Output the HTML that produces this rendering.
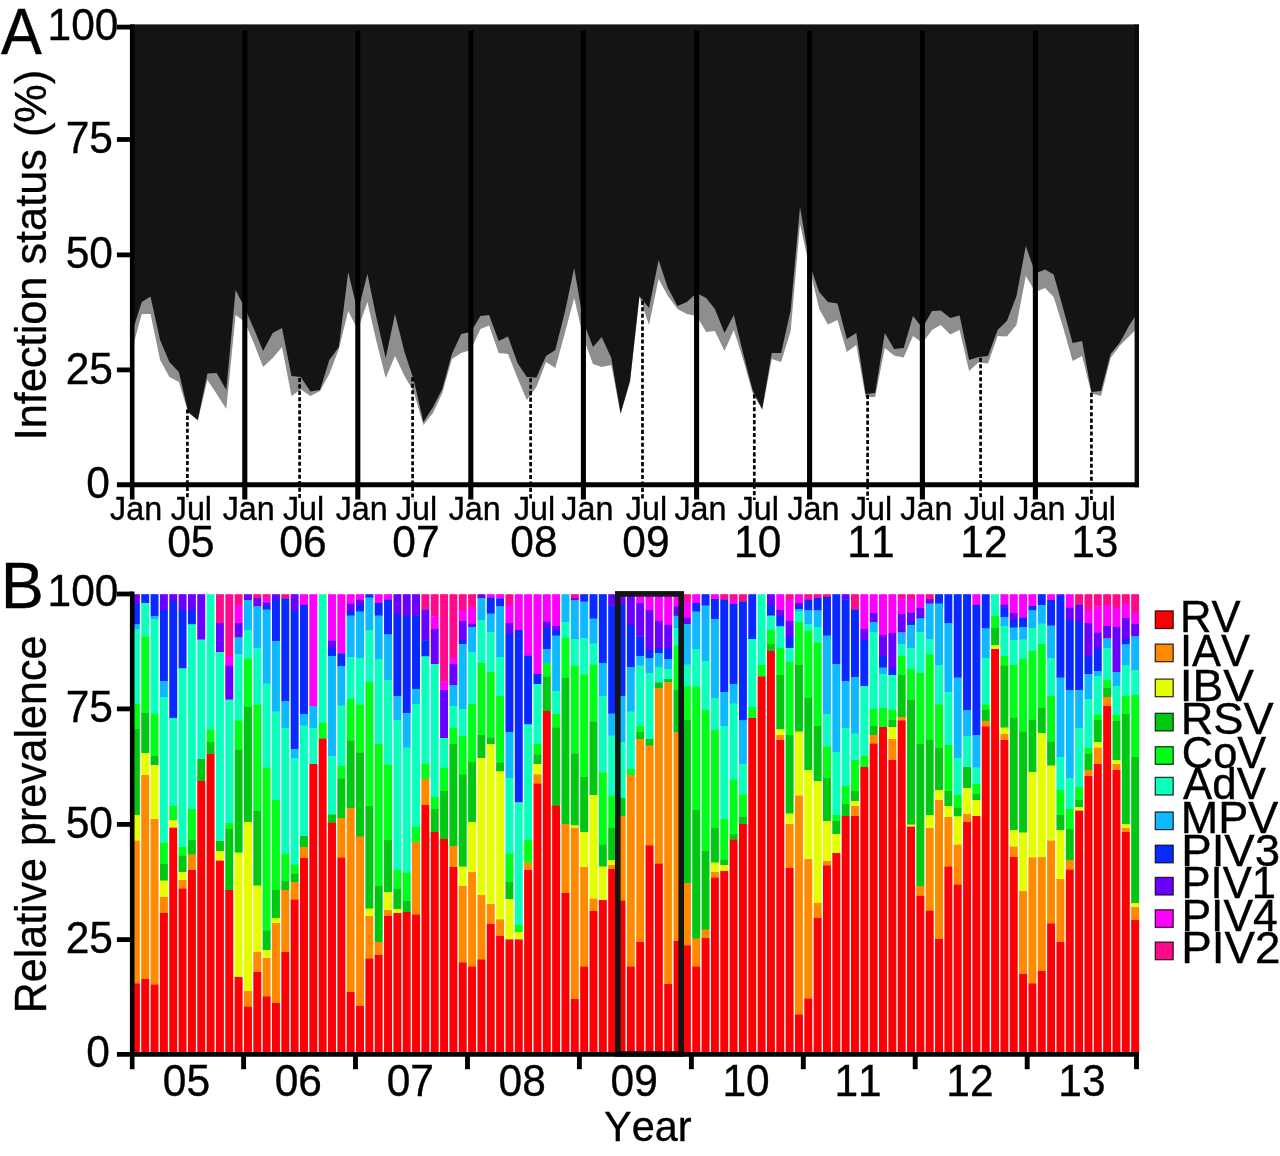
<!DOCTYPE html>
<html lang="en"><head><meta charset="utf-8"><title>Infection status and relative prevalence</title>
<style>html,body{margin:0;padding:0;background:#fff}svg{display:block}text{font-family:"Liberation Sans", Arial, Helvetica, sans-serif;fill:#000;stroke:#000;stroke-width:0.35px;font-kerning:none;font-variant-ligatures:none}</style>
</head><body>
<svg width="1280" height="1156" viewBox="0 0 1280 1156">
<rect width="1280" height="1156" fill="#fff"/>
<g id="panelA">
<path d="M132.2,24.6 L132.2,349.0 L141.8,314.0 L150.5,314.0 L160.1,360.0 L169.4,377.0 L178.9,382.0 L188.2,412.4 L197.8,420.4 L207.4,380.0 L216.7,394.0 L226.3,409.0 L235.6,315.0 L244.8,322.0 L254.4,344.4 L263.1,367.0 L272.7,358.0 L282.0,347.0 L291.5,396.0 L300.8,389.6 L310.4,396.0 L320.0,391.0 L329.3,374.0 L338.9,349.0 L348.2,311.0 L357.8,330.0 L367.4,302.0 L376.1,340.0 L385.7,378.0 L395.0,356.0 L404.5,376.0 L413.8,392.0 L423.4,425.0 L433.0,413.0 L442.3,393.0 L451.9,359.0 L461.2,353.0 L470.8,350.0 L480.4,329.0 L489.1,325.6 L498.7,353.0 L508.0,354.0 L517.5,378.0 L526.8,400.0 L536.4,387.0 L546.0,362.0 L555.3,368.0 L564.9,333.0 L574.2,298.0 L583.4,338.0 L593.0,364.0 L601.7,367.0 L611.3,365.0 L620.6,414.0 L630.1,382.0 L639.4,297.0 L649.0,325.0 L658.6,279.0 L667.9,296.0 L677.5,309.0 L686.8,314.0 L696.6,316.0 L706.2,332.0 L714.9,331.0 L724.5,351.0 L733.8,330.0 L743.3,360.0 L752.6,393.0 L762.2,410.0 L771.8,359.0 L781.1,362.0 L790.7,331.0 L800.0,224.0 L809.6,268.0 L819.2,309.0 L827.9,324.4 L837.5,320.0 L846.8,352.0 L856.3,345.0 L865.6,397.0 L875.2,397.0 L884.8,348.0 L894.1,355.6 L903.7,357.6 L913.0,336.0 L922.4,343.0 L932.0,330.0 L940.7,325.0 L950.3,334.4 L959.6,330.0 L969.1,371.0 L978.4,362.4 L988.0,363.6 L997.6,336.0 L1006.9,336.4 L1016.5,325.0 L1025.8,276.0 L1035.4,292.0 L1045.0,288.0 L1053.7,297.0 L1063.3,328.0 L1072.6,361.0 L1082.1,356.0 L1091.4,393.6 L1101.0,396.0 L1110.6,358.0 L1119.9,345.6 L1129.5,336.0 L1137.4,328.0 L1137.4,24.6 Z" fill="#8e8e8e"/>
<path d="M130.2,24.6 L132.2,332.0 L141.8,302.0 L150.5,296.6 L160.1,340.0 L169.4,362.0 L178.9,372.0 L188.2,412.0 L197.8,420.0 L207.4,373.6 L216.7,373.0 L226.3,390.0 L235.6,290.0 L244.8,308.0 L254.4,330.0 L263.1,351.0 L272.7,333.0 L282.0,328.0 L291.5,376.0 L300.8,377.0 L310.4,391.6 L320.0,390.0 L329.3,360.0 L338.9,347.0 L348.2,272.0 L357.8,312.0 L367.4,274.0 L376.1,316.0 L385.7,358.0 L395.0,314.0 L404.5,352.0 L413.8,380.0 L423.4,422.0 L433.0,407.0 L442.3,389.0 L451.9,354.0 L461.2,334.0 L470.8,332.0 L480.4,316.0 L489.1,315.0 L498.7,341.0 L508.0,336.4 L517.5,363.0 L526.8,377.0 L536.4,377.6 L546.0,356.0 L555.3,350.0 L564.9,312.0 L574.2,268.0 L583.4,322.0 L593.0,347.0 L601.7,337.0 L611.3,358.0 L620.6,413.6 L630.1,380.0 L639.4,296.0 L649.0,308.0 L658.6,260.0 L667.9,288.0 L677.5,306.0 L686.8,302.0 L696.6,293.0 L706.2,298.0 L714.9,309.0 L724.5,333.0 L733.8,315.0 L743.3,354.0 L752.6,390.0 L762.2,409.0 L771.8,353.0 L781.1,353.0 L790.7,310.0 L800.0,207.0 L809.6,264.0 L819.2,292.0 L827.9,302.0 L837.5,303.6 L846.8,339.0 L856.3,333.0 L865.6,394.0 L875.2,393.0 L884.8,333.0 L894.1,349.0 L903.7,348.0 L913.0,316.0 L922.4,328.0 L932.0,311.0 L940.7,310.4 L950.3,318.0 L959.6,315.6 L969.1,360.0 L978.4,357.0 L988.0,356.0 L997.6,330.0 L1006.9,321.0 L1016.5,296.0 L1025.8,246.0 L1035.4,273.6 L1045.0,269.6 L1053.7,274.4 L1063.3,309.0 L1072.6,343.0 L1082.1,341.0 L1091.4,392.0 L1101.0,391.0 L1110.6,354.0 L1119.9,342.4 L1129.5,325.0 L1137.4,313.0 L1138.9,313.0 L1138.9,24.6 Z" fill="#141414"/>
<line x1="187.4" y1="409.4" x2="187.4" y2="500" stroke="#000" stroke-width="2.7" stroke-dasharray="4.1 2.35"/>
<line x1="299.6" y1="377.9" x2="299.6" y2="500" stroke="#000" stroke-width="2.7" stroke-dasharray="4.1 2.35"/>
<line x1="412.6" y1="377.3" x2="412.6" y2="500" stroke="#000" stroke-width="2.7" stroke-dasharray="4.1 2.35"/>
<line x1="530.6" y1="378.2" x2="530.6" y2="500" stroke="#000" stroke-width="2.7" stroke-dasharray="4.1 2.35"/>
<line x1="642.5" y1="300.8" x2="642.5" y2="500" stroke="#000" stroke-width="2.7" stroke-dasharray="4.1 2.35"/>
<line x1="754.3" y1="394.3" x2="754.3" y2="500" stroke="#000" stroke-width="2.7" stroke-dasharray="4.1 2.35"/>
<line x1="867.6" y1="394.8" x2="867.6" y2="500" stroke="#000" stroke-width="2.7" stroke-dasharray="4.1 2.35"/>
<line x1="980.6" y1="357.8" x2="980.6" y2="500" stroke="#000" stroke-width="2.7" stroke-dasharray="4.1 2.35"/>
<line x1="1091.4" y1="392.8" x2="1091.4" y2="500" stroke="#000" stroke-width="2.7" stroke-dasharray="4.1 2.35"/>
<line x1="244.8" y1="30.5" x2="244.8" y2="499.4" stroke="#000" stroke-width="5.1"/>
<line x1="357.8" y1="30.5" x2="357.8" y2="499.4" stroke="#000" stroke-width="5.1"/>
<line x1="470.8" y1="30.5" x2="470.8" y2="499.4" stroke="#000" stroke-width="5.1"/>
<line x1="583.4" y1="30.5" x2="583.4" y2="499.4" stroke="#000" stroke-width="5.1"/>
<line x1="696.6" y1="30.5" x2="696.6" y2="499.4" stroke="#000" stroke-width="5.1"/>
<line x1="809.6" y1="30.5" x2="809.6" y2="499.4" stroke="#000" stroke-width="5.1"/>
<line x1="922.4" y1="30.5" x2="922.4" y2="499.4" stroke="#000" stroke-width="5.1"/>
<line x1="1035.4" y1="30.5" x2="1035.4" y2="499.4" stroke="#000" stroke-width="5.1"/>
<line x1="132.2" y1="24.6" x2="132.2" y2="499.4" stroke="#000" stroke-width="4.6"/>
<line x1="1136.8" y1="24.6" x2="1136.8" y2="487.2" stroke="#0a0a0a" stroke-width="4.4"/>
<line x1="116.9" y1="484.8" x2="1139" y2="484.8" stroke="#000" stroke-width="5.0"/>
<line x1="116.9" y1="27.1" x2="132" y2="27.1" stroke="#000" stroke-width="4.8"/>
<line x1="116.9" y1="139.5" x2="132" y2="139.5" stroke="#000" stroke-width="4.8"/>
<line x1="116.9" y1="254.9" x2="132" y2="254.9" stroke="#000" stroke-width="4.8"/>
<line x1="116.9" y1="369.9" x2="132" y2="369.9" stroke="#000" stroke-width="4.8"/>
<text transform="translate(118.5,39.5) scale(1.000,1.045)" font-size="42.5" text-anchor="end">100</text>
<text transform="translate(113.0,152.9) scale(1.000,1.045)" font-size="42.5" text-anchor="end">75</text>
<text transform="translate(113.0,268.4) scale(1.000,1.045)" font-size="42.5" text-anchor="end">50</text>
<text transform="translate(113.0,384.1) scale(1.000,1.045)" font-size="42.5" text-anchor="end">25</text>
<text transform="translate(110.0,497.8) scale(1.000,1.045)" font-size="42.5" text-anchor="end">0</text>
<text transform="translate(21.3,54.0) scale(0.975,1.045)" font-size="62.8" text-anchor="middle">A</text>
<text transform="translate(45.7,255.0) rotate(-90) scale(1.000,1.045)" font-size="43.3" text-anchor="middle">Infection status (%)</text>
<text transform="translate(136.1,520.0) scale(1.000,1.045)" font-size="32.3" text-anchor="middle">Jan</text>
<text transform="translate(248.7,520.0) scale(1.000,1.045)" font-size="32.3" text-anchor="middle">Jan</text>
<text transform="translate(361.7,520.0) scale(1.000,1.045)" font-size="32.3" text-anchor="middle">Jan</text>
<text transform="translate(474.7,520.0) scale(1.000,1.045)" font-size="32.3" text-anchor="middle">Jan</text>
<text transform="translate(587.3,520.0) scale(1.000,1.045)" font-size="32.3" text-anchor="middle">Jan</text>
<text transform="translate(700.5,520.0) scale(1.000,1.045)" font-size="32.3" text-anchor="middle">Jan</text>
<text transform="translate(813.5,520.0) scale(1.000,1.045)" font-size="32.3" text-anchor="middle">Jan</text>
<text transform="translate(926.3,520.0) scale(1.000,1.045)" font-size="32.3" text-anchor="middle">Jan</text>
<text transform="translate(1039.3,520.0) scale(1.000,1.045)" font-size="32.3" text-anchor="middle">Jan</text>
<text transform="translate(191.4,520.0) scale(1.000,1.045)" font-size="32.3" text-anchor="middle">Jul</text>
<text transform="translate(190.8,556.5) scale(1.000,1.045)" font-size="42.5" text-anchor="middle">05</text>
<text transform="translate(303.6,520.0) scale(1.000,1.045)" font-size="32.3" text-anchor="middle">Jul</text>
<text transform="translate(303.0,556.5) scale(1.000,1.045)" font-size="42.5" text-anchor="middle">06</text>
<text transform="translate(416.6,520.0) scale(1.000,1.045)" font-size="32.3" text-anchor="middle">Jul</text>
<text transform="translate(416.0,556.5) scale(1.000,1.045)" font-size="42.5" text-anchor="middle">07</text>
<text transform="translate(534.6,520.0) scale(1.000,1.045)" font-size="32.3" text-anchor="middle">Jul</text>
<text transform="translate(534.0,556.5) scale(1.000,1.045)" font-size="42.5" text-anchor="middle">08</text>
<text transform="translate(646.5,520.0) scale(1.000,1.045)" font-size="32.3" text-anchor="middle">Jul</text>
<text transform="translate(645.9,556.5) scale(1.000,1.045)" font-size="42.5" text-anchor="middle">09</text>
<text transform="translate(758.3,520.0) scale(1.000,1.045)" font-size="32.3" text-anchor="middle">Jul</text>
<text transform="translate(757.7,556.5) scale(1.000,1.045)" font-size="42.5" text-anchor="middle">10</text>
<text transform="translate(871.6,520.0) scale(1.000,1.045)" font-size="32.3" text-anchor="middle">Jul</text>
<text transform="translate(871.0,556.5) scale(1.000,1.045)" font-size="42.5" text-anchor="middle">11</text>
<text transform="translate(984.6,520.0) scale(1.000,1.045)" font-size="32.3" text-anchor="middle">Jul</text>
<text transform="translate(984.0,556.5) scale(1.000,1.045)" font-size="42.5" text-anchor="middle">12</text>
<text transform="translate(1095.4,520.0) scale(1.000,1.045)" font-size="32.3" text-anchor="middle">Jul</text>
<text transform="translate(1094.8,556.5) scale(1.000,1.045)" font-size="42.5" text-anchor="middle">13</text>
</g>
<g id="panelB" shape-rendering="auto">
<rect x="131.90" y="594.2" width="7.95" height="10.1" fill="#6a00ff"/>
<rect x="131.90" y="604.0" width="7.95" height="20.7" fill="#0829ff"/>
<rect x="131.90" y="624.4" width="7.95" height="5.3" fill="#0fb9ff"/>
<rect x="131.90" y="629.4" width="7.95" height="74.5" fill="#0cffbc"/>
<rect x="131.90" y="703.6" width="7.95" height="25.7" fill="#00ff18"/>
<rect x="131.90" y="729.0" width="7.95" height="86.3" fill="#00c812"/>
<rect x="131.90" y="815.0" width="7.95" height="25.9" fill="#e6ff00"/>
<rect x="131.90" y="840.6" width="7.95" height="143.1" fill="#ff8a00"/>
<rect x="131.90" y="983.4" width="7.95" height="71.0" fill="#fc0006"/>
<rect x="141.24" y="594.2" width="7.95" height="9.1" fill="#0829ff"/>
<rect x="141.24" y="603.0" width="7.95" height="33.7" fill="#0cffbc"/>
<rect x="141.24" y="636.4" width="7.95" height="76.9" fill="#00ff18"/>
<rect x="141.24" y="713.0" width="7.95" height="40.3" fill="#00c812"/>
<rect x="141.24" y="753.0" width="7.95" height="22.3" fill="#e6ff00"/>
<rect x="141.24" y="775.0" width="7.95" height="204.3" fill="#ff8a00"/>
<rect x="141.24" y="979.0" width="7.95" height="75.4" fill="#fc0006"/>
<rect x="150.58" y="594.2" width="7.95" height="22.1" fill="#0829ff"/>
<rect x="150.58" y="616.0" width="7.95" height="3.3" fill="#0fb9ff"/>
<rect x="150.58" y="619.0" width="7.95" height="95.3" fill="#0cffbc"/>
<rect x="150.58" y="714.0" width="7.95" height="42.3" fill="#00ff18"/>
<rect x="150.58" y="756.0" width="7.95" height="9.3" fill="#00c812"/>
<rect x="150.58" y="765.0" width="7.95" height="54.3" fill="#e6ff00"/>
<rect x="150.58" y="819.0" width="7.95" height="165.9" fill="#ff8a00"/>
<rect x="150.58" y="984.6" width="7.95" height="69.8" fill="#fc0006"/>
<rect x="159.92" y="594.2" width="7.95" height="16.1" fill="#6a00ff"/>
<rect x="159.92" y="610.0" width="7.95" height="71.3" fill="#0829ff"/>
<rect x="159.92" y="681.0" width="7.95" height="16.3" fill="#0fb9ff"/>
<rect x="159.92" y="697.0" width="7.95" height="145.9" fill="#0cffbc"/>
<rect x="159.92" y="842.6" width="7.95" height="21.7" fill="#00ff18"/>
<rect x="159.92" y="864.0" width="7.95" height="16.9" fill="#00c812"/>
<rect x="159.92" y="880.6" width="7.95" height="16.7" fill="#e6ff00"/>
<rect x="159.92" y="897.0" width="7.95" height="16.3" fill="#ff8a00"/>
<rect x="159.92" y="913.0" width="7.95" height="141.4" fill="#fc0006"/>
<rect x="169.26" y="594.2" width="7.95" height="7.1" fill="#6a00ff"/>
<rect x="169.26" y="601.0" width="7.95" height="117.3" fill="#0829ff"/>
<rect x="169.26" y="718.0" width="7.95" height="88.3" fill="#0cffbc"/>
<rect x="169.26" y="806.0" width="7.95" height="14.3" fill="#00ff18"/>
<rect x="169.26" y="820.0" width="7.95" height="7.9" fill="#e6ff00"/>
<rect x="169.26" y="827.6" width="7.95" height="226.8" fill="#fc0006"/>
<rect x="178.59" y="594.2" width="7.95" height="16.1" fill="#6a00ff"/>
<rect x="178.59" y="610.0" width="7.95" height="58.7" fill="#0829ff"/>
<rect x="178.59" y="668.4" width="7.95" height="178.9" fill="#0cffbc"/>
<rect x="178.59" y="847.0" width="7.95" height="8.7" fill="#00ff18"/>
<rect x="178.59" y="855.4" width="7.95" height="16.9" fill="#00c812"/>
<rect x="178.59" y="872.0" width="7.95" height="8.3" fill="#e6ff00"/>
<rect x="178.59" y="880.0" width="7.95" height="8.9" fill="#ff8a00"/>
<rect x="178.59" y="888.6" width="7.95" height="165.8" fill="#fc0006"/>
<rect x="187.93" y="594.2" width="7.95" height="16.1" fill="#6a00ff"/>
<rect x="187.93" y="610.0" width="7.95" height="14.7" fill="#0829ff"/>
<rect x="187.93" y="624.4" width="7.95" height="184.9" fill="#0cffbc"/>
<rect x="187.93" y="809.0" width="7.95" height="31.3" fill="#00ff18"/>
<rect x="187.93" y="840.0" width="7.95" height="14.9" fill="#00c812"/>
<rect x="187.93" y="854.6" width="7.95" height="15.7" fill="#ff8a00"/>
<rect x="187.93" y="870.0" width="7.95" height="184.4" fill="#fc0006"/>
<rect x="197.27" y="594.2" width="7.95" height="45.7" fill="#6a00ff"/>
<rect x="197.27" y="639.6" width="7.95" height="119.7" fill="#0cffbc"/>
<rect x="197.27" y="759.0" width="7.95" height="22.3" fill="#00c812"/>
<rect x="197.27" y="781.0" width="7.95" height="273.4" fill="#fc0006"/>
<rect x="206.61" y="594.2" width="7.95" height="135.5" fill="#0cffbc"/>
<rect x="206.61" y="729.4" width="7.95" height="12.9" fill="#00ff18"/>
<rect x="206.61" y="742.0" width="7.95" height="12.3" fill="#00c812"/>
<rect x="206.61" y="754.0" width="7.95" height="300.4" fill="#fc0006"/>
<rect x="215.95" y="594.2" width="7.95" height="29.1" fill="#ff0a8a"/>
<rect x="215.95" y="623.0" width="7.95" height="29.3" fill="#6a00ff"/>
<rect x="215.95" y="652.0" width="7.95" height="189.3" fill="#0cffbc"/>
<rect x="215.95" y="841.0" width="7.95" height="10.3" fill="#00c812"/>
<rect x="215.95" y="851.0" width="7.95" height="9.9" fill="#e6ff00"/>
<rect x="215.95" y="860.6" width="7.95" height="193.8" fill="#fc0006"/>
<rect x="225.29" y="594.2" width="7.95" height="62.1" fill="#ff0a8a"/>
<rect x="225.29" y="656.0" width="7.95" height="9.9" fill="#ff00ff"/>
<rect x="225.29" y="665.6" width="7.95" height="34.3" fill="#6a00ff"/>
<rect x="225.29" y="699.6" width="7.95" height="123.7" fill="#0cffbc"/>
<rect x="225.29" y="823.0" width="7.95" height="6.3" fill="#00ff18"/>
<rect x="225.29" y="829.0" width="7.95" height="61.3" fill="#00c812"/>
<rect x="225.29" y="890.0" width="7.95" height="164.4" fill="#fc0006"/>
<rect x="234.63" y="594.2" width="7.95" height="11.7" fill="#ff0a8a"/>
<rect x="234.63" y="605.6" width="7.95" height="17.7" fill="#ff00ff"/>
<rect x="234.63" y="623.0" width="7.95" height="14.7" fill="#6a00ff"/>
<rect x="234.63" y="637.4" width="7.95" height="17.3" fill="#0fb9ff"/>
<rect x="234.63" y="654.4" width="7.95" height="66.3" fill="#0cffbc"/>
<rect x="234.63" y="720.4" width="7.95" height="29.3" fill="#00ff18"/>
<rect x="234.63" y="749.4" width="7.95" height="103.5" fill="#00c812"/>
<rect x="234.63" y="852.6" width="7.95" height="124.7" fill="#e6ff00"/>
<rect x="234.63" y="977.0" width="7.95" height="77.4" fill="#fc0006"/>
<rect x="243.97" y="594.2" width="7.95" height="6.1" fill="#6a00ff"/>
<rect x="243.97" y="600.0" width="7.95" height="30.3" fill="#0fb9ff"/>
<rect x="243.97" y="630.0" width="7.95" height="28.9" fill="#0cffbc"/>
<rect x="243.97" y="658.6" width="7.95" height="48.3" fill="#00ff18"/>
<rect x="243.97" y="706.6" width="7.95" height="115.7" fill="#00c812"/>
<rect x="243.97" y="822.0" width="7.95" height="169.3" fill="#e6ff00"/>
<rect x="243.97" y="991.0" width="7.95" height="15.9" fill="#ff8a00"/>
<rect x="243.97" y="1006.6" width="7.95" height="47.8" fill="#fc0006"/>
<rect x="253.31" y="594.2" width="7.95" height="4.1" fill="#ff0a8a"/>
<rect x="253.31" y="598.0" width="7.95" height="8.7" fill="#6a00ff"/>
<rect x="253.31" y="606.4" width="7.95" height="41.9" fill="#0fb9ff"/>
<rect x="253.31" y="648.0" width="7.95" height="56.7" fill="#0cffbc"/>
<rect x="253.31" y="704.4" width="7.95" height="106.9" fill="#00ff18"/>
<rect x="253.31" y="811.0" width="7.95" height="74.9" fill="#00c812"/>
<rect x="253.31" y="885.6" width="7.95" height="66.7" fill="#e6ff00"/>
<rect x="253.31" y="952.0" width="7.95" height="20.3" fill="#ff8a00"/>
<rect x="253.31" y="972.0" width="7.95" height="82.4" fill="#fc0006"/>
<rect x="262.65" y="594.2" width="7.95" height="3.7" fill="#ff0a8a"/>
<rect x="262.65" y="597.6" width="7.95" height="5.1" fill="#ff00ff"/>
<rect x="262.65" y="602.4" width="7.95" height="3.5" fill="#6a00ff"/>
<rect x="262.65" y="605.6" width="7.95" height="4.3" fill="#0829ff"/>
<rect x="262.65" y="609.6" width="7.95" height="74.3" fill="#0fb9ff"/>
<rect x="262.65" y="683.6" width="7.95" height="84.3" fill="#0cffbc"/>
<rect x="262.65" y="767.6" width="7.95" height="163.3" fill="#00ff18"/>
<rect x="262.65" y="930.6" width="7.95" height="19.7" fill="#00c812"/>
<rect x="262.65" y="950.0" width="7.95" height="8.3" fill="#e6ff00"/>
<rect x="262.65" y="958.0" width="7.95" height="38.7" fill="#ff8a00"/>
<rect x="262.65" y="996.4" width="7.95" height="58.0" fill="#fc0006"/>
<rect x="271.99" y="594.2" width="7.95" height="5.1" fill="#6a00ff"/>
<rect x="271.99" y="599.0" width="7.95" height="42.3" fill="#0829ff"/>
<rect x="271.99" y="641.0" width="7.95" height="70.9" fill="#0fb9ff"/>
<rect x="271.99" y="711.6" width="7.95" height="88.7" fill="#0cffbc"/>
<rect x="271.99" y="800.0" width="7.95" height="90.3" fill="#00ff18"/>
<rect x="271.99" y="890.0" width="7.95" height="28.3" fill="#00c812"/>
<rect x="271.99" y="918.0" width="7.95" height="5.3" fill="#e6ff00"/>
<rect x="271.99" y="923.0" width="7.95" height="80.3" fill="#ff8a00"/>
<rect x="271.99" y="1003.0" width="7.95" height="51.4" fill="#fc0006"/>
<rect x="281.32" y="594.2" width="7.95" height="4.5" fill="#ff0a8a"/>
<rect x="281.32" y="598.4" width="7.95" height="102.9" fill="#0829ff"/>
<rect x="281.32" y="701.0" width="7.95" height="27.3" fill="#0fb9ff"/>
<rect x="281.32" y="728.0" width="7.95" height="126.3" fill="#0cffbc"/>
<rect x="281.32" y="854.0" width="7.95" height="27.3" fill="#00ff18"/>
<rect x="281.32" y="881.0" width="7.95" height="9.3" fill="#00c812"/>
<rect x="281.32" y="890.0" width="7.95" height="62.3" fill="#ff8a00"/>
<rect x="281.32" y="952.0" width="7.95" height="102.4" fill="#fc0006"/>
<rect x="290.66" y="594.2" width="7.95" height="17.1" fill="#6a00ff"/>
<rect x="290.66" y="611.0" width="7.95" height="138.3" fill="#0829ff"/>
<rect x="290.66" y="749.0" width="7.95" height="9.3" fill="#0fb9ff"/>
<rect x="290.66" y="758.0" width="7.95" height="106.9" fill="#0cffbc"/>
<rect x="290.66" y="864.6" width="7.95" height="9.1" fill="#00ff18"/>
<rect x="290.66" y="873.4" width="7.95" height="8.9" fill="#00c812"/>
<rect x="290.66" y="882.0" width="7.95" height="17.9" fill="#ff8a00"/>
<rect x="290.66" y="899.6" width="7.95" height="154.8" fill="#fc0006"/>
<rect x="300.00" y="594.2" width="7.95" height="11.1" fill="#ff00ff"/>
<rect x="300.00" y="605.0" width="7.95" height="109.3" fill="#0829ff"/>
<rect x="300.00" y="714.0" width="7.95" height="11.9" fill="#0fb9ff"/>
<rect x="300.00" y="725.6" width="7.95" height="110.7" fill="#0cffbc"/>
<rect x="300.00" y="836.0" width="7.95" height="11.3" fill="#00c812"/>
<rect x="300.00" y="847.0" width="7.95" height="11.3" fill="#ff8a00"/>
<rect x="300.00" y="858.0" width="7.95" height="196.4" fill="#fc0006"/>
<rect x="309.34" y="594.2" width="7.95" height="112.1" fill="#ff00ff"/>
<rect x="309.34" y="706.0" width="7.95" height="22.3" fill="#0fb9ff"/>
<rect x="309.34" y="728.0" width="7.95" height="36.3" fill="#0cffbc"/>
<rect x="309.34" y="764.0" width="7.95" height="290.4" fill="#fc0006"/>
<rect x="318.68" y="594.2" width="7.95" height="128.5" fill="#0cffbc"/>
<rect x="318.68" y="722.4" width="7.95" height="16.5" fill="#00ff18"/>
<rect x="318.68" y="738.6" width="7.95" height="315.8" fill="#fc0006"/>
<rect x="328.02" y="594.2" width="7.95" height="46.5" fill="#ff00ff"/>
<rect x="328.02" y="640.4" width="7.95" height="7.9" fill="#6a00ff"/>
<rect x="328.02" y="648.0" width="7.95" height="8.3" fill="#0829ff"/>
<rect x="328.02" y="656.0" width="7.95" height="100.7" fill="#0fb9ff"/>
<rect x="328.02" y="756.4" width="7.95" height="58.3" fill="#0cffbc"/>
<rect x="328.02" y="814.4" width="7.95" height="8.5" fill="#00c812"/>
<rect x="328.02" y="822.6" width="7.95" height="231.8" fill="#fc0006"/>
<rect x="337.36" y="594.2" width="7.95" height="59.5" fill="#ff00ff"/>
<rect x="337.36" y="653.4" width="7.95" height="12.9" fill="#0829ff"/>
<rect x="337.36" y="666.0" width="7.95" height="39.9" fill="#0fb9ff"/>
<rect x="337.36" y="705.6" width="7.95" height="60.7" fill="#0cffbc"/>
<rect x="337.36" y="766.0" width="7.95" height="12.7" fill="#00ff18"/>
<rect x="337.36" y="778.4" width="7.95" height="39.9" fill="#00c812"/>
<rect x="337.36" y="818.0" width="7.95" height="39.9" fill="#ff8a00"/>
<rect x="337.36" y="857.6" width="7.95" height="196.8" fill="#fc0006"/>
<rect x="346.70" y="594.2" width="7.95" height="9.7" fill="#ff00ff"/>
<rect x="346.70" y="603.6" width="7.95" height="7.7" fill="#6a00ff"/>
<rect x="346.70" y="611.0" width="7.95" height="4.9" fill="#0829ff"/>
<rect x="346.70" y="615.6" width="7.95" height="42.1" fill="#0fb9ff"/>
<rect x="346.70" y="657.4" width="7.95" height="41.9" fill="#0cffbc"/>
<rect x="346.70" y="699.0" width="7.95" height="41.7" fill="#00ff18"/>
<rect x="346.70" y="740.4" width="7.95" height="67.9" fill="#00c812"/>
<rect x="346.70" y="808.0" width="7.95" height="184.3" fill="#ff8a00"/>
<rect x="346.70" y="992.0" width="7.95" height="62.4" fill="#fc0006"/>
<rect x="356.04" y="594.2" width="7.95" height="5.7" fill="#ff00ff"/>
<rect x="356.04" y="599.6" width="7.95" height="5.7" fill="#6a00ff"/>
<rect x="356.04" y="605.0" width="7.95" height="6.9" fill="#0829ff"/>
<rect x="356.04" y="611.6" width="7.95" height="46.7" fill="#0fb9ff"/>
<rect x="356.04" y="658.0" width="7.95" height="46.7" fill="#0cffbc"/>
<rect x="356.04" y="704.4" width="7.95" height="48.3" fill="#00ff18"/>
<rect x="356.04" y="752.4" width="7.95" height="84.5" fill="#00c812"/>
<rect x="356.04" y="836.6" width="7.95" height="169.7" fill="#ff8a00"/>
<rect x="356.04" y="1006.0" width="7.95" height="48.4" fill="#fc0006"/>
<rect x="365.38" y="594.2" width="7.95" height="3.7" fill="#0829ff"/>
<rect x="365.38" y="597.6" width="7.95" height="32.7" fill="#0fb9ff"/>
<rect x="365.38" y="630.0" width="7.95" height="52.3" fill="#0cffbc"/>
<rect x="365.38" y="682.0" width="7.95" height="124.3" fill="#00ff18"/>
<rect x="365.38" y="806.0" width="7.95" height="102.9" fill="#00c812"/>
<rect x="365.38" y="908.6" width="7.95" height="7.7" fill="#e6ff00"/>
<rect x="365.38" y="916.0" width="7.95" height="42.9" fill="#ff8a00"/>
<rect x="365.38" y="958.6" width="7.95" height="95.8" fill="#fc0006"/>
<rect x="374.71" y="594.2" width="7.95" height="9.1" fill="#ff00ff"/>
<rect x="374.71" y="603.0" width="7.95" height="12.9" fill="#0829ff"/>
<rect x="374.71" y="615.6" width="7.95" height="43.7" fill="#0fb9ff"/>
<rect x="374.71" y="659.0" width="7.95" height="85.3" fill="#0cffbc"/>
<rect x="374.71" y="744.0" width="7.95" height="142.3" fill="#00ff18"/>
<rect x="374.71" y="886.0" width="7.95" height="56.3" fill="#00c812"/>
<rect x="374.71" y="942.0" width="7.95" height="13.3" fill="#ff8a00"/>
<rect x="374.71" y="955.0" width="7.95" height="99.4" fill="#fc0006"/>
<rect x="384.05" y="594.2" width="7.95" height="5.7" fill="#ff00ff"/>
<rect x="384.05" y="599.6" width="7.95" height="35.1" fill="#0829ff"/>
<rect x="384.05" y="634.4" width="7.95" height="46.3" fill="#0fb9ff"/>
<rect x="384.05" y="680.4" width="7.95" height="84.3" fill="#0cffbc"/>
<rect x="384.05" y="764.4" width="7.95" height="75.9" fill="#00ff18"/>
<rect x="384.05" y="840.0" width="7.95" height="52.3" fill="#00c812"/>
<rect x="384.05" y="892.0" width="7.95" height="18.3" fill="#e6ff00"/>
<rect x="384.05" y="910.0" width="7.95" height="6.3" fill="#ff8a00"/>
<rect x="384.05" y="916.0" width="7.95" height="138.4" fill="#fc0006"/>
<rect x="393.39" y="594.2" width="7.95" height="20.1" fill="#6a00ff"/>
<rect x="393.39" y="614.0" width="7.95" height="82.3" fill="#0829ff"/>
<rect x="393.39" y="696.0" width="7.95" height="24.3" fill="#0fb9ff"/>
<rect x="393.39" y="720.0" width="7.95" height="150.3" fill="#0cffbc"/>
<rect x="393.39" y="870.0" width="7.95" height="19.3" fill="#00ff18"/>
<rect x="393.39" y="889.0" width="7.95" height="20.3" fill="#00c812"/>
<rect x="393.39" y="909.0" width="7.95" height="4.3" fill="#e6ff00"/>
<rect x="393.39" y="913.0" width="7.95" height="141.4" fill="#fc0006"/>
<rect x="402.73" y="594.2" width="7.95" height="22.1" fill="#6a00ff"/>
<rect x="402.73" y="616.0" width="7.95" height="97.3" fill="#0829ff"/>
<rect x="402.73" y="713.0" width="7.95" height="34.9" fill="#0fb9ff"/>
<rect x="402.73" y="747.6" width="7.95" height="125.3" fill="#0cffbc"/>
<rect x="402.73" y="872.6" width="7.95" height="28.7" fill="#00ff18"/>
<rect x="402.73" y="901.0" width="7.95" height="11.3" fill="#00c812"/>
<rect x="402.73" y="912.0" width="7.95" height="142.4" fill="#fc0006"/>
<rect x="412.07" y="594.2" width="7.95" height="21.7" fill="#6a00ff"/>
<rect x="412.07" y="615.6" width="7.95" height="73.7" fill="#0829ff"/>
<rect x="412.07" y="689.0" width="7.95" height="15.3" fill="#0fb9ff"/>
<rect x="412.07" y="704.0" width="7.95" height="123.3" fill="#0cffbc"/>
<rect x="412.07" y="827.0" width="7.95" height="15.3" fill="#00ff18"/>
<rect x="412.07" y="842.0" width="7.95" height="72.9" fill="#ff8a00"/>
<rect x="412.07" y="914.6" width="7.95" height="139.8" fill="#fc0006"/>
<rect x="421.41" y="594.2" width="7.95" height="15.7" fill="#ff0a8a"/>
<rect x="421.41" y="609.6" width="7.95" height="31.1" fill="#6a00ff"/>
<rect x="421.41" y="640.4" width="7.95" height="16.3" fill="#0829ff"/>
<rect x="421.41" y="656.4" width="7.95" height="107.5" fill="#0cffbc"/>
<rect x="421.41" y="763.6" width="7.95" height="15.7" fill="#00ff18"/>
<rect x="421.41" y="779.0" width="7.95" height="26.3" fill="#ff8a00"/>
<rect x="421.41" y="805.0" width="7.95" height="249.4" fill="#fc0006"/>
<rect x="430.75" y="594.2" width="7.95" height="22.5" fill="#ff0a8a"/>
<rect x="430.75" y="616.4" width="7.95" height="12.9" fill="#ff00ff"/>
<rect x="430.75" y="629.0" width="7.95" height="35.3" fill="#6a00ff"/>
<rect x="430.75" y="664.0" width="7.95" height="133.3" fill="#0cffbc"/>
<rect x="430.75" y="797.0" width="7.95" height="12.3" fill="#00ff18"/>
<rect x="430.75" y="809.0" width="7.95" height="23.3" fill="#00c812"/>
<rect x="430.75" y="832.0" width="7.95" height="222.4" fill="#fc0006"/>
<rect x="440.09" y="594.2" width="7.95" height="87.7" fill="#ff0a8a"/>
<rect x="440.09" y="681.6" width="7.95" height="8.7" fill="#ff00ff"/>
<rect x="440.09" y="690.0" width="7.95" height="48.3" fill="#6a00ff"/>
<rect x="440.09" y="738.0" width="7.95" height="29.9" fill="#0cffbc"/>
<rect x="440.09" y="767.6" width="7.95" height="23.7" fill="#00ff18"/>
<rect x="440.09" y="791.0" width="7.95" height="48.3" fill="#00c812"/>
<rect x="440.09" y="839.0" width="7.95" height="215.4" fill="#fc0006"/>
<rect x="449.43" y="594.2" width="7.95" height="64.1" fill="#ff0a8a"/>
<rect x="449.43" y="658.0" width="7.95" height="6.3" fill="#ff00ff"/>
<rect x="449.43" y="664.0" width="7.95" height="21.3" fill="#6a00ff"/>
<rect x="449.43" y="685.0" width="7.95" height="21.3" fill="#0fb9ff"/>
<rect x="449.43" y="706.0" width="7.95" height="22.3" fill="#0cffbc"/>
<rect x="449.43" y="728.0" width="7.95" height="16.3" fill="#00ff18"/>
<rect x="449.43" y="744.0" width="7.95" height="102.3" fill="#00c812"/>
<rect x="449.43" y="846.0" width="7.95" height="21.3" fill="#ff8a00"/>
<rect x="449.43" y="867.0" width="7.95" height="187.4" fill="#fc0006"/>
<rect x="458.76" y="594.2" width="7.95" height="16.1" fill="#ff0a8a"/>
<rect x="458.76" y="610.0" width="7.95" height="11.3" fill="#ff00ff"/>
<rect x="458.76" y="621.0" width="7.95" height="19.3" fill="#6a00ff"/>
<rect x="458.76" y="640.0" width="7.95" height="4.3" fill="#0829ff"/>
<rect x="458.76" y="644.0" width="7.95" height="65.3" fill="#0fb9ff"/>
<rect x="458.76" y="709.0" width="7.95" height="27.3" fill="#0cffbc"/>
<rect x="458.76" y="736.0" width="7.95" height="38.7" fill="#00ff18"/>
<rect x="458.76" y="774.4" width="7.95" height="92.5" fill="#00c812"/>
<rect x="458.76" y="866.6" width="7.95" height="19.7" fill="#e6ff00"/>
<rect x="458.76" y="886.0" width="7.95" height="76.7" fill="#ff8a00"/>
<rect x="458.76" y="962.4" width="7.95" height="92.0" fill="#fc0006"/>
<rect x="468.10" y="594.2" width="7.95" height="13.7" fill="#ff0a8a"/>
<rect x="468.10" y="607.6" width="7.95" height="16.3" fill="#ff00ff"/>
<rect x="468.10" y="623.6" width="7.95" height="3.7" fill="#6a00ff"/>
<rect x="468.10" y="627.0" width="7.95" height="25.7" fill="#0fb9ff"/>
<rect x="468.10" y="652.4" width="7.95" height="51.9" fill="#0cffbc"/>
<rect x="468.10" y="704.0" width="7.95" height="58.3" fill="#00ff18"/>
<rect x="468.10" y="762.0" width="7.95" height="60.3" fill="#00c812"/>
<rect x="468.10" y="822.0" width="7.95" height="50.3" fill="#e6ff00"/>
<rect x="468.10" y="872.0" width="7.95" height="94.9" fill="#ff8a00"/>
<rect x="468.10" y="966.6" width="7.95" height="87.8" fill="#fc0006"/>
<rect x="477.44" y="594.2" width="7.95" height="4.1" fill="#6a00ff"/>
<rect x="477.44" y="598.0" width="7.95" height="22.7" fill="#0fb9ff"/>
<rect x="477.44" y="620.4" width="7.95" height="42.9" fill="#0cffbc"/>
<rect x="477.44" y="663.0" width="7.95" height="72.3" fill="#00ff18"/>
<rect x="477.44" y="735.0" width="7.95" height="23.3" fill="#00c812"/>
<rect x="477.44" y="758.0" width="7.95" height="137.3" fill="#e6ff00"/>
<rect x="477.44" y="895.0" width="7.95" height="64.7" fill="#ff8a00"/>
<rect x="477.44" y="959.4" width="7.95" height="95.0" fill="#fc0006"/>
<rect x="486.78" y="594.2" width="7.95" height="3.7" fill="#ff00ff"/>
<rect x="486.78" y="597.6" width="7.95" height="16.3" fill="#0829ff"/>
<rect x="486.78" y="613.6" width="7.95" height="19.1" fill="#0fb9ff"/>
<rect x="486.78" y="632.4" width="7.95" height="39.9" fill="#0cffbc"/>
<rect x="486.78" y="672.0" width="7.95" height="65.9" fill="#00ff18"/>
<rect x="486.78" y="737.6" width="7.95" height="6.7" fill="#00c812"/>
<rect x="486.78" y="744.0" width="7.95" height="160.3" fill="#e6ff00"/>
<rect x="486.78" y="904.0" width="7.95" height="20.3" fill="#ff8a00"/>
<rect x="486.78" y="924.0" width="7.95" height="130.4" fill="#fc0006"/>
<rect x="496.12" y="594.2" width="7.95" height="4.5" fill="#ff00ff"/>
<rect x="496.12" y="598.4" width="7.95" height="8.3" fill="#0829ff"/>
<rect x="496.12" y="606.4" width="7.95" height="50.9" fill="#0fb9ff"/>
<rect x="496.12" y="657.0" width="7.95" height="39.3" fill="#0cffbc"/>
<rect x="496.12" y="696.0" width="7.95" height="66.7" fill="#00ff18"/>
<rect x="496.12" y="762.4" width="7.95" height="9.3" fill="#00c812"/>
<rect x="496.12" y="771.4" width="7.95" height="148.3" fill="#e6ff00"/>
<rect x="496.12" y="919.4" width="7.95" height="16.9" fill="#ff8a00"/>
<rect x="496.12" y="936.0" width="7.95" height="118.4" fill="#fc0006"/>
<rect x="505.46" y="594.2" width="7.95" height="11.1" fill="#ff0a8a"/>
<rect x="505.46" y="605.0" width="7.95" height="18.3" fill="#ff00ff"/>
<rect x="505.46" y="623.0" width="7.95" height="11.3" fill="#6a00ff"/>
<rect x="505.46" y="634.0" width="7.95" height="98.3" fill="#0829ff"/>
<rect x="505.46" y="732.0" width="7.95" height="46.3" fill="#0fb9ff"/>
<rect x="505.46" y="778.0" width="7.95" height="75.7" fill="#0cffbc"/>
<rect x="505.46" y="853.4" width="7.95" height="28.9" fill="#00ff18"/>
<rect x="505.46" y="882.0" width="7.95" height="17.3" fill="#00c812"/>
<rect x="505.46" y="899.0" width="7.95" height="40.7" fill="#e6ff00"/>
<rect x="505.46" y="939.4" width="7.95" height="115.0" fill="#fc0006"/>
<rect x="514.80" y="594.2" width="7.95" height="36.1" fill="#ff00ff"/>
<rect x="514.80" y="630.0" width="7.95" height="172.7" fill="#0829ff"/>
<rect x="514.80" y="802.4" width="7.95" height="122.9" fill="#0cffbc"/>
<rect x="514.80" y="925.0" width="7.95" height="7.3" fill="#00ff18"/>
<rect x="514.80" y="932.0" width="7.95" height="7.7" fill="#e6ff00"/>
<rect x="514.80" y="939.4" width="7.95" height="115.0" fill="#fc0006"/>
<rect x="524.14" y="594.2" width="7.95" height="61.7" fill="#ff00ff"/>
<rect x="524.14" y="655.6" width="7.95" height="69.1" fill="#0829ff"/>
<rect x="524.14" y="724.4" width="7.95" height="115.9" fill="#0cffbc"/>
<rect x="524.14" y="840.0" width="7.95" height="22.9" fill="#00ff18"/>
<rect x="524.14" y="862.6" width="7.95" height="7.7" fill="#ff8a00"/>
<rect x="524.14" y="870.0" width="7.95" height="184.4" fill="#fc0006"/>
<rect x="533.48" y="594.2" width="7.95" height="80.1" fill="#ff00ff"/>
<rect x="533.48" y="674.0" width="7.95" height="10.3" fill="#0829ff"/>
<rect x="533.48" y="684.0" width="7.95" height="60.3" fill="#0cffbc"/>
<rect x="533.48" y="744.0" width="7.95" height="10.7" fill="#00ff18"/>
<rect x="533.48" y="754.4" width="7.95" height="9.9" fill="#00c812"/>
<rect x="533.48" y="764.0" width="7.95" height="10.7" fill="#e6ff00"/>
<rect x="533.48" y="774.4" width="7.95" height="9.5" fill="#ff8a00"/>
<rect x="533.48" y="783.6" width="7.95" height="270.8" fill="#fc0006"/>
<rect x="542.82" y="594.2" width="7.95" height="27.7" fill="#ff00ff"/>
<rect x="542.82" y="621.6" width="7.95" height="6.7" fill="#6a00ff"/>
<rect x="542.82" y="628.0" width="7.95" height="21.3" fill="#0829ff"/>
<rect x="542.82" y="649.0" width="7.95" height="14.3" fill="#0fb9ff"/>
<rect x="542.82" y="663.0" width="7.95" height="13.7" fill="#00ff18"/>
<rect x="542.82" y="676.4" width="7.95" height="34.9" fill="#00c812"/>
<rect x="542.82" y="711.0" width="7.95" height="343.4" fill="#fc0006"/>
<rect x="552.15" y="594.2" width="7.95" height="32.1" fill="#ff00ff"/>
<rect x="552.15" y="626.0" width="7.95" height="5.3" fill="#6a00ff"/>
<rect x="552.15" y="631.0" width="7.95" height="4.9" fill="#0829ff"/>
<rect x="552.15" y="635.6" width="7.95" height="55.7" fill="#0fb9ff"/>
<rect x="552.15" y="691.0" width="7.95" height="23.3" fill="#0cffbc"/>
<rect x="552.15" y="714.0" width="7.95" height="13.9" fill="#00ff18"/>
<rect x="552.15" y="727.6" width="7.95" height="78.3" fill="#00c812"/>
<rect x="552.15" y="805.6" width="7.95" height="248.8" fill="#fc0006"/>
<rect x="561.49" y="594.2" width="7.95" height="28.1" fill="#0fb9ff"/>
<rect x="561.49" y="622.0" width="7.95" height="15.9" fill="#0cffbc"/>
<rect x="561.49" y="637.6" width="7.95" height="40.7" fill="#00ff18"/>
<rect x="561.49" y="678.0" width="7.95" height="146.3" fill="#00c812"/>
<rect x="561.49" y="824.0" width="7.95" height="69.3" fill="#ff8a00"/>
<rect x="561.49" y="893.0" width="7.95" height="161.4" fill="#fc0006"/>
<rect x="570.83" y="594.2" width="7.95" height="4.1" fill="#ff0a8a"/>
<rect x="570.83" y="598.0" width="7.95" height="2.7" fill="#6a00ff"/>
<rect x="570.83" y="600.4" width="7.95" height="38.9" fill="#0fb9ff"/>
<rect x="570.83" y="639.0" width="7.95" height="26.9" fill="#0cffbc"/>
<rect x="570.83" y="665.6" width="7.95" height="88.3" fill="#00ff18"/>
<rect x="570.83" y="753.6" width="7.95" height="72.1" fill="#00c812"/>
<rect x="570.83" y="825.4" width="7.95" height="2.9" fill="#e6ff00"/>
<rect x="570.83" y="828.0" width="7.95" height="171.3" fill="#ff8a00"/>
<rect x="570.83" y="999.0" width="7.95" height="55.4" fill="#fc0006"/>
<rect x="580.17" y="594.2" width="7.95" height="7.7" fill="#0829ff"/>
<rect x="580.17" y="601.6" width="7.95" height="36.7" fill="#0fb9ff"/>
<rect x="580.17" y="638.0" width="7.95" height="36.7" fill="#0cffbc"/>
<rect x="580.17" y="674.4" width="7.95" height="102.9" fill="#00ff18"/>
<rect x="580.17" y="777.0" width="7.95" height="55.3" fill="#00c812"/>
<rect x="580.17" y="832.0" width="7.95" height="35.3" fill="#e6ff00"/>
<rect x="580.17" y="867.0" width="7.95" height="99.9" fill="#ff8a00"/>
<rect x="580.17" y="966.6" width="7.95" height="87.8" fill="#fc0006"/>
<rect x="589.51" y="594.2" width="7.95" height="24.7" fill="#0829ff"/>
<rect x="589.51" y="618.6" width="7.95" height="25.3" fill="#0fb9ff"/>
<rect x="589.51" y="643.6" width="7.95" height="21.1" fill="#0cffbc"/>
<rect x="589.51" y="664.4" width="7.95" height="57.3" fill="#00ff18"/>
<rect x="589.51" y="721.4" width="7.95" height="73.9" fill="#00c812"/>
<rect x="589.51" y="795.0" width="7.95" height="103.9" fill="#e6ff00"/>
<rect x="589.51" y="898.6" width="7.95" height="12.7" fill="#ff8a00"/>
<rect x="589.51" y="911.0" width="7.95" height="143.4" fill="#fc0006"/>
<rect x="598.85" y="594.2" width="7.95" height="69.1" fill="#0829ff"/>
<rect x="598.85" y="663.0" width="7.95" height="33.3" fill="#0fb9ff"/>
<rect x="598.85" y="696.0" width="7.95" height="76.7" fill="#0cffbc"/>
<rect x="598.85" y="772.4" width="7.95" height="72.5" fill="#00ff18"/>
<rect x="598.85" y="844.6" width="7.95" height="22.3" fill="#00c812"/>
<rect x="598.85" y="866.6" width="7.95" height="33.7" fill="#e6ff00"/>
<rect x="598.85" y="900.0" width="7.95" height="154.4" fill="#fc0006"/>
<rect x="608.19" y="594.2" width="7.95" height="11.7" fill="#6a00ff"/>
<rect x="608.19" y="605.6" width="7.95" height="108.3" fill="#0829ff"/>
<rect x="608.19" y="713.6" width="7.95" height="22.3" fill="#0fb9ff"/>
<rect x="608.19" y="735.6" width="7.95" height="60.3" fill="#0cffbc"/>
<rect x="608.19" y="795.6" width="7.95" height="32.7" fill="#00ff18"/>
<rect x="608.19" y="828.0" width="7.95" height="32.3" fill="#00c812"/>
<rect x="608.19" y="860.0" width="7.95" height="5.3" fill="#e6ff00"/>
<rect x="608.19" y="865.0" width="7.95" height="4.3" fill="#ff8a00"/>
<rect x="608.19" y="869.0" width="7.95" height="185.4" fill="#fc0006"/>
<rect x="617.53" y="594.2" width="7.95" height="10.1" fill="#6a00ff"/>
<rect x="617.53" y="604.0" width="7.95" height="92.3" fill="#0829ff"/>
<rect x="617.53" y="696.0" width="7.95" height="46.3" fill="#0fb9ff"/>
<rect x="617.53" y="742.0" width="7.95" height="56.3" fill="#0cffbc"/>
<rect x="617.53" y="798.0" width="7.95" height="18.3" fill="#00c812"/>
<rect x="617.53" y="816.0" width="7.95" height="84.9" fill="#ff8a00"/>
<rect x="617.53" y="900.6" width="7.95" height="153.8" fill="#fc0006"/>
<rect x="626.87" y="594.2" width="7.95" height="31.1" fill="#6a00ff"/>
<rect x="626.87" y="625.0" width="7.95" height="42.3" fill="#0829ff"/>
<rect x="626.87" y="667.0" width="7.95" height="44.9" fill="#0fb9ff"/>
<rect x="626.87" y="711.6" width="7.95" height="57.7" fill="#0cffbc"/>
<rect x="626.87" y="769.0" width="7.95" height="6.3" fill="#00ff18"/>
<rect x="626.87" y="775.0" width="7.95" height="191.9" fill="#ff8a00"/>
<rect x="626.87" y="966.6" width="7.95" height="87.8" fill="#fc0006"/>
<rect x="636.21" y="594.2" width="7.95" height="9.1" fill="#ff00ff"/>
<rect x="636.21" y="603.0" width="7.95" height="33.7" fill="#6a00ff"/>
<rect x="636.21" y="636.4" width="7.95" height="19.9" fill="#0829ff"/>
<rect x="636.21" y="656.0" width="7.95" height="9.9" fill="#0fb9ff"/>
<rect x="636.21" y="665.6" width="7.95" height="60.7" fill="#0cffbc"/>
<rect x="636.21" y="726.0" width="7.95" height="6.3" fill="#00ff18"/>
<rect x="636.21" y="732.0" width="7.95" height="7.3" fill="#00c812"/>
<rect x="636.21" y="739.0" width="7.95" height="203.3" fill="#ff8a00"/>
<rect x="636.21" y="942.0" width="7.95" height="112.4" fill="#fc0006"/>
<rect x="645.54" y="594.2" width="7.95" height="16.1" fill="#ff00ff"/>
<rect x="645.54" y="610.0" width="7.95" height="40.3" fill="#6a00ff"/>
<rect x="645.54" y="650.0" width="7.95" height="8.3" fill="#0829ff"/>
<rect x="645.54" y="658.0" width="7.95" height="15.3" fill="#0fb9ff"/>
<rect x="645.54" y="673.0" width="7.95" height="66.3" fill="#0cffbc"/>
<rect x="645.54" y="739.0" width="7.95" height="6.9" fill="#00c812"/>
<rect x="645.54" y="745.6" width="7.95" height="100.1" fill="#ff8a00"/>
<rect x="645.54" y="845.4" width="7.95" height="209.0" fill="#fc0006"/>
<rect x="654.88" y="594.2" width="7.95" height="27.1" fill="#ff00ff"/>
<rect x="654.88" y="621.0" width="7.95" height="27.3" fill="#6a00ff"/>
<rect x="654.88" y="648.0" width="7.95" height="5.3" fill="#0829ff"/>
<rect x="654.88" y="653.0" width="7.95" height="14.3" fill="#0fb9ff"/>
<rect x="654.88" y="667.0" width="7.95" height="15.7" fill="#0cffbc"/>
<rect x="654.88" y="682.4" width="7.95" height="5.9" fill="#00c812"/>
<rect x="654.88" y="688.0" width="7.95" height="175.9" fill="#ff8a00"/>
<rect x="654.88" y="863.6" width="7.95" height="190.8" fill="#fc0006"/>
<rect x="664.22" y="594.2" width="7.95" height="31.1" fill="#ff00ff"/>
<rect x="664.22" y="625.0" width="7.95" height="23.3" fill="#6a00ff"/>
<rect x="664.22" y="648.0" width="7.95" height="11.3" fill="#0829ff"/>
<rect x="664.22" y="659.0" width="7.95" height="10.3" fill="#0fb9ff"/>
<rect x="664.22" y="669.0" width="7.95" height="10.3" fill="#0cffbc"/>
<rect x="664.22" y="679.0" width="7.95" height="3.7" fill="#00c812"/>
<rect x="664.22" y="682.4" width="7.95" height="301.9" fill="#ff8a00"/>
<rect x="664.22" y="984.0" width="7.95" height="70.4" fill="#fc0006"/>
<rect x="673.56" y="594.2" width="7.95" height="12.5" fill="#ff00ff"/>
<rect x="673.56" y="606.4" width="7.95" height="9.7" fill="#6a00ff"/>
<rect x="673.56" y="615.8" width="7.95" height="12.5" fill="#0fb9ff"/>
<rect x="673.56" y="628.0" width="7.95" height="17.9" fill="#0cffbc"/>
<rect x="673.56" y="645.6" width="7.95" height="44.7" fill="#00ff18"/>
<rect x="673.56" y="690.0" width="7.95" height="42.7" fill="#00c812"/>
<rect x="673.56" y="732.4" width="7.95" height="208.9" fill="#ff8a00"/>
<rect x="673.56" y="941.0" width="7.95" height="113.4" fill="#fc0006"/>
<rect x="682.90" y="594.2" width="7.95" height="7.1" fill="#ff0a8a"/>
<rect x="682.90" y="601.0" width="7.95" height="17.1" fill="#ff00ff"/>
<rect x="682.90" y="617.8" width="7.95" height="6.5" fill="#6a00ff"/>
<rect x="682.90" y="624.0" width="7.95" height="40.9" fill="#0fb9ff"/>
<rect x="682.90" y="664.6" width="7.95" height="21.7" fill="#0cffbc"/>
<rect x="682.90" y="686.0" width="7.95" height="34.3" fill="#00ff18"/>
<rect x="682.90" y="720.0" width="7.95" height="163.7" fill="#00c812"/>
<rect x="682.90" y="883.4" width="7.95" height="62.3" fill="#ff8a00"/>
<rect x="682.90" y="945.4" width="7.95" height="109.0" fill="#fc0006"/>
<rect x="692.24" y="594.2" width="7.95" height="9.1" fill="#ff00ff"/>
<rect x="692.24" y="603.0" width="7.95" height="8.9" fill="#0829ff"/>
<rect x="692.24" y="611.6" width="7.95" height="37.7" fill="#0fb9ff"/>
<rect x="692.24" y="649.0" width="7.95" height="37.7" fill="#0cffbc"/>
<rect x="692.24" y="686.4" width="7.95" height="123.9" fill="#00ff18"/>
<rect x="692.24" y="810.0" width="7.95" height="128.9" fill="#00c812"/>
<rect x="692.24" y="938.6" width="7.95" height="28.3" fill="#ff8a00"/>
<rect x="692.24" y="966.6" width="7.95" height="87.8" fill="#fc0006"/>
<rect x="701.58" y="594.2" width="7.95" height="11.7" fill="#0829ff"/>
<rect x="701.58" y="605.6" width="7.95" height="55.7" fill="#0fb9ff"/>
<rect x="701.58" y="661.0" width="7.95" height="49.3" fill="#0cffbc"/>
<rect x="701.58" y="710.0" width="7.95" height="141.3" fill="#00ff18"/>
<rect x="701.58" y="851.0" width="7.95" height="78.9" fill="#00c812"/>
<rect x="701.58" y="929.6" width="7.95" height="8.7" fill="#ff8a00"/>
<rect x="701.58" y="938.0" width="7.95" height="116.4" fill="#fc0006"/>
<rect x="710.92" y="594.2" width="7.95" height="5.1" fill="#ff00ff"/>
<rect x="710.92" y="599.0" width="7.95" height="20.3" fill="#0829ff"/>
<rect x="710.92" y="619.0" width="7.95" height="79.3" fill="#0fb9ff"/>
<rect x="710.92" y="698.0" width="7.95" height="32.3" fill="#0cffbc"/>
<rect x="710.92" y="730.0" width="7.95" height="98.3" fill="#00ff18"/>
<rect x="710.92" y="828.0" width="7.95" height="34.9" fill="#00c812"/>
<rect x="710.92" y="862.6" width="7.95" height="9.7" fill="#e6ff00"/>
<rect x="710.92" y="872.0" width="7.95" height="5.9" fill="#ff8a00"/>
<rect x="710.92" y="877.6" width="7.95" height="176.8" fill="#fc0006"/>
<rect x="720.26" y="594.2" width="7.95" height="5.7" fill="#ff0a8a"/>
<rect x="720.26" y="599.6" width="7.95" height="92.7" fill="#0829ff"/>
<rect x="720.26" y="692.0" width="7.95" height="34.3" fill="#0fb9ff"/>
<rect x="720.26" y="726.0" width="7.95" height="93.3" fill="#0cffbc"/>
<rect x="720.26" y="819.0" width="7.95" height="40.7" fill="#00ff18"/>
<rect x="720.26" y="859.4" width="7.95" height="5.9" fill="#00c812"/>
<rect x="720.26" y="865.0" width="7.95" height="6.3" fill="#e6ff00"/>
<rect x="720.26" y="871.0" width="7.95" height="183.4" fill="#fc0006"/>
<rect x="729.60" y="594.2" width="7.95" height="5.1" fill="#ff0a8a"/>
<rect x="729.60" y="599.0" width="7.95" height="5.3" fill="#ff00ff"/>
<rect x="729.60" y="604.0" width="7.95" height="80.3" fill="#0829ff"/>
<rect x="729.60" y="684.0" width="7.95" height="19.9" fill="#0fb9ff"/>
<rect x="729.60" y="703.6" width="7.95" height="76.3" fill="#0cffbc"/>
<rect x="729.60" y="779.6" width="7.95" height="54.7" fill="#00ff18"/>
<rect x="729.60" y="834.0" width="7.95" height="5.7" fill="#00c812"/>
<rect x="729.60" y="839.4" width="7.95" height="215.0" fill="#fc0006"/>
<rect x="738.94" y="594.2" width="7.95" height="7.7" fill="#ff0a8a"/>
<rect x="738.94" y="601.6" width="7.95" height="119.1" fill="#0829ff"/>
<rect x="738.94" y="720.4" width="7.95" height="44.3" fill="#0fb9ff"/>
<rect x="738.94" y="764.4" width="7.95" height="30.3" fill="#0cffbc"/>
<rect x="738.94" y="794.4" width="7.95" height="22.9" fill="#00ff18"/>
<rect x="738.94" y="817.0" width="7.95" height="7.3" fill="#00c812"/>
<rect x="738.94" y="824.0" width="7.95" height="230.4" fill="#fc0006"/>
<rect x="748.27" y="594.2" width="7.95" height="45.1" fill="#0829ff"/>
<rect x="748.27" y="639.0" width="7.95" height="68.3" fill="#0cffbc"/>
<rect x="748.27" y="707.0" width="7.95" height="11.3" fill="#00ff18"/>
<rect x="748.27" y="718.0" width="7.95" height="336.4" fill="#fc0006"/>
<rect x="757.61" y="594.2" width="7.95" height="71.1" fill="#0cffbc"/>
<rect x="757.61" y="665.0" width="7.95" height="11.7" fill="#00ff18"/>
<rect x="757.61" y="676.4" width="7.95" height="378.0" fill="#fc0006"/>
<rect x="766.95" y="594.2" width="7.95" height="11.1" fill="#6a00ff"/>
<rect x="766.95" y="605.0" width="7.95" height="10.9" fill="#0829ff"/>
<rect x="766.95" y="615.6" width="7.95" height="14.7" fill="#0cffbc"/>
<rect x="766.95" y="630.0" width="7.95" height="14.3" fill="#00ff18"/>
<rect x="766.95" y="644.0" width="7.95" height="7.3" fill="#00c812"/>
<rect x="766.95" y="651.0" width="7.95" height="403.4" fill="#fc0006"/>
<rect x="776.29" y="594.2" width="7.95" height="16.1" fill="#ff00ff"/>
<rect x="776.29" y="610.0" width="7.95" height="6.3" fill="#6a00ff"/>
<rect x="776.29" y="616.0" width="7.95" height="10.7" fill="#0829ff"/>
<rect x="776.29" y="626.4" width="7.95" height="21.9" fill="#0cffbc"/>
<rect x="776.29" y="648.0" width="7.95" height="27.3" fill="#00ff18"/>
<rect x="776.29" y="675.0" width="7.95" height="54.7" fill="#00c812"/>
<rect x="776.29" y="729.4" width="7.95" height="5.9" fill="#e6ff00"/>
<rect x="776.29" y="735.0" width="7.95" height="5.3" fill="#ff8a00"/>
<rect x="776.29" y="740.0" width="7.95" height="314.4" fill="#fc0006"/>
<rect x="785.63" y="594.2" width="7.95" height="5.1" fill="#ff0a8a"/>
<rect x="785.63" y="599.0" width="7.95" height="22.3" fill="#ff00ff"/>
<rect x="785.63" y="621.0" width="7.95" height="16.3" fill="#6a00ff"/>
<rect x="785.63" y="637.0" width="7.95" height="11.3" fill="#0829ff"/>
<rect x="785.63" y="648.0" width="7.95" height="14.3" fill="#0cffbc"/>
<rect x="785.63" y="662.0" width="7.95" height="73.3" fill="#00ff18"/>
<rect x="785.63" y="735.0" width="7.95" height="78.9" fill="#00c812"/>
<rect x="785.63" y="813.6" width="7.95" height="10.7" fill="#e6ff00"/>
<rect x="785.63" y="824.0" width="7.95" height="44.3" fill="#ff8a00"/>
<rect x="785.63" y="868.0" width="7.95" height="186.4" fill="#fc0006"/>
<rect x="794.97" y="594.2" width="7.95" height="9.1" fill="#ff00ff"/>
<rect x="794.97" y="603.0" width="7.95" height="3.3" fill="#6a00ff"/>
<rect x="794.97" y="606.0" width="7.95" height="3.3" fill="#0829ff"/>
<rect x="794.97" y="609.0" width="7.95" height="2.9" fill="#0fb9ff"/>
<rect x="794.97" y="611.6" width="7.95" height="10.7" fill="#0cffbc"/>
<rect x="794.97" y="622.0" width="7.95" height="43.3" fill="#00ff18"/>
<rect x="794.97" y="665.0" width="7.95" height="66.9" fill="#00c812"/>
<rect x="794.97" y="731.6" width="7.95" height="64.3" fill="#e6ff00"/>
<rect x="794.97" y="795.6" width="7.95" height="219.3" fill="#ff8a00"/>
<rect x="794.97" y="1014.6" width="7.95" height="39.8" fill="#fc0006"/>
<rect x="804.31" y="594.2" width="7.95" height="5.7" fill="#ff0a8a"/>
<rect x="804.31" y="599.6" width="7.95" height="11.1" fill="#0829ff"/>
<rect x="804.31" y="610.4" width="7.95" height="14.3" fill="#0fb9ff"/>
<rect x="804.31" y="624.4" width="7.95" height="6.9" fill="#0cffbc"/>
<rect x="804.31" y="631.0" width="7.95" height="67.3" fill="#00ff18"/>
<rect x="804.31" y="698.0" width="7.95" height="72.3" fill="#00c812"/>
<rect x="804.31" y="770.0" width="7.95" height="89.3" fill="#e6ff00"/>
<rect x="804.31" y="859.0" width="7.95" height="139.9" fill="#ff8a00"/>
<rect x="804.31" y="998.6" width="7.95" height="55.8" fill="#fc0006"/>
<rect x="813.65" y="594.2" width="7.95" height="4.1" fill="#ff0a8a"/>
<rect x="813.65" y="598.0" width="7.95" height="12.7" fill="#0829ff"/>
<rect x="813.65" y="610.4" width="7.95" height="16.9" fill="#0fb9ff"/>
<rect x="813.65" y="627.0" width="7.95" height="15.7" fill="#0cffbc"/>
<rect x="813.65" y="642.4" width="7.95" height="83.9" fill="#00ff18"/>
<rect x="813.65" y="726.0" width="7.95" height="55.3" fill="#00c812"/>
<rect x="813.65" y="781.0" width="7.95" height="122.3" fill="#e6ff00"/>
<rect x="813.65" y="903.0" width="7.95" height="15.3" fill="#ff8a00"/>
<rect x="813.65" y="918.0" width="7.95" height="136.4" fill="#fc0006"/>
<rect x="822.99" y="594.2" width="7.95" height="3.1" fill="#ff0a8a"/>
<rect x="822.99" y="597.0" width="7.95" height="38.9" fill="#0829ff"/>
<rect x="822.99" y="635.6" width="7.95" height="78.7" fill="#0fb9ff"/>
<rect x="822.99" y="714.0" width="7.95" height="32.7" fill="#0cffbc"/>
<rect x="822.99" y="746.4" width="7.95" height="31.9" fill="#00ff18"/>
<rect x="822.99" y="778.0" width="7.95" height="43.3" fill="#00c812"/>
<rect x="822.99" y="821.0" width="7.95" height="40.3" fill="#e6ff00"/>
<rect x="822.99" y="861.0" width="7.95" height="4.7" fill="#ff8a00"/>
<rect x="822.99" y="865.4" width="7.95" height="189.0" fill="#fc0006"/>
<rect x="832.33" y="594.2" width="7.95" height="70.1" fill="#0829ff"/>
<rect x="832.33" y="664.0" width="7.95" height="88.7" fill="#0fb9ff"/>
<rect x="832.33" y="752.4" width="7.95" height="62.9" fill="#0cffbc"/>
<rect x="832.33" y="815.0" width="7.95" height="6.3" fill="#00ff18"/>
<rect x="832.33" y="821.0" width="7.95" height="13.3" fill="#00c812"/>
<rect x="832.33" y="834.0" width="7.95" height="19.3" fill="#e6ff00"/>
<rect x="832.33" y="853.0" width="7.95" height="201.4" fill="#fc0006"/>
<rect x="841.66" y="594.2" width="7.95" height="5.7" fill="#6a00ff"/>
<rect x="841.66" y="599.6" width="7.95" height="81.7" fill="#0829ff"/>
<rect x="841.66" y="681.0" width="7.95" height="47.3" fill="#0fb9ff"/>
<rect x="841.66" y="728.0" width="7.95" height="58.3" fill="#0cffbc"/>
<rect x="841.66" y="786.0" width="7.95" height="18.3" fill="#00ff18"/>
<rect x="841.66" y="804.0" width="7.95" height="12.3" fill="#00c812"/>
<rect x="841.66" y="816.0" width="7.95" height="238.4" fill="#fc0006"/>
<rect x="851.00" y="594.2" width="7.95" height="15.7" fill="#ff0a8a"/>
<rect x="851.00" y="609.6" width="7.95" height="67.7" fill="#0829ff"/>
<rect x="851.00" y="677.0" width="7.95" height="56.9" fill="#0fb9ff"/>
<rect x="851.00" y="733.6" width="7.95" height="26.7" fill="#0cffbc"/>
<rect x="851.00" y="760.0" width="7.95" height="31.3" fill="#00ff18"/>
<rect x="851.00" y="791.0" width="7.95" height="10.3" fill="#00c812"/>
<rect x="851.00" y="801.0" width="7.95" height="5.3" fill="#e6ff00"/>
<rect x="851.00" y="806.0" width="7.95" height="10.3" fill="#ff8a00"/>
<rect x="851.00" y="816.0" width="7.95" height="238.4" fill="#fc0006"/>
<rect x="860.34" y="594.2" width="7.95" height="35.1" fill="#ff00ff"/>
<rect x="860.34" y="629.0" width="7.95" height="11.3" fill="#6a00ff"/>
<rect x="860.34" y="640.0" width="7.95" height="46.3" fill="#0829ff"/>
<rect x="860.34" y="686.0" width="7.95" height="69.9" fill="#0cffbc"/>
<rect x="860.34" y="755.6" width="7.95" height="11.7" fill="#00ff18"/>
<rect x="860.34" y="767.0" width="7.95" height="287.4" fill="#fc0006"/>
<rect x="869.68" y="594.2" width="7.95" height="19.1" fill="#ff00ff"/>
<rect x="869.68" y="613.0" width="7.95" height="9.3" fill="#6a00ff"/>
<rect x="869.68" y="622.0" width="7.95" height="10.3" fill="#0fb9ff"/>
<rect x="869.68" y="632.0" width="7.95" height="77.3" fill="#0cffbc"/>
<rect x="869.68" y="709.0" width="7.95" height="17.3" fill="#00ff18"/>
<rect x="869.68" y="726.0" width="7.95" height="9.3" fill="#00c812"/>
<rect x="869.68" y="735.0" width="7.95" height="8.9" fill="#ff8a00"/>
<rect x="869.68" y="743.6" width="7.95" height="310.8" fill="#fc0006"/>
<rect x="879.02" y="594.2" width="7.95" height="41.1" fill="#ff00ff"/>
<rect x="879.02" y="635.0" width="7.95" height="21.3" fill="#6a00ff"/>
<rect x="879.02" y="656.0" width="7.95" height="11.9" fill="#0829ff"/>
<rect x="879.02" y="667.6" width="7.95" height="6.7" fill="#0fb9ff"/>
<rect x="879.02" y="674.0" width="7.95" height="34.3" fill="#0cffbc"/>
<rect x="879.02" y="708.0" width="7.95" height="19.3" fill="#00ff18"/>
<rect x="879.02" y="727.0" width="7.95" height="327.4" fill="#fc0006"/>
<rect x="888.36" y="594.2" width="7.95" height="39.1" fill="#ff00ff"/>
<rect x="888.36" y="633.0" width="7.95" height="36.3" fill="#6a00ff"/>
<rect x="888.36" y="669.0" width="7.95" height="6.3" fill="#0829ff"/>
<rect x="888.36" y="675.0" width="7.95" height="34.9" fill="#0cffbc"/>
<rect x="888.36" y="709.6" width="7.95" height="10.7" fill="#00ff18"/>
<rect x="888.36" y="720.0" width="7.95" height="7.3" fill="#00c812"/>
<rect x="888.36" y="727.0" width="7.95" height="12.3" fill="#e6ff00"/>
<rect x="888.36" y="739.0" width="7.95" height="21.3" fill="#ff8a00"/>
<rect x="888.36" y="760.0" width="7.95" height="294.4" fill="#fc0006"/>
<rect x="897.70" y="594.2" width="7.95" height="4.1" fill="#ff0a8a"/>
<rect x="897.70" y="598.0" width="7.95" height="16.3" fill="#ff00ff"/>
<rect x="897.70" y="614.0" width="7.95" height="18.7" fill="#6a00ff"/>
<rect x="897.70" y="632.4" width="7.95" height="11.9" fill="#0fb9ff"/>
<rect x="897.70" y="644.0" width="7.95" height="12.3" fill="#0cffbc"/>
<rect x="897.70" y="656.0" width="7.95" height="19.3" fill="#00ff18"/>
<rect x="897.70" y="675.0" width="7.95" height="42.3" fill="#00c812"/>
<rect x="897.70" y="717.0" width="7.95" height="3.7" fill="#ff8a00"/>
<rect x="897.70" y="720.4" width="7.95" height="334.0" fill="#fc0006"/>
<rect x="907.04" y="594.2" width="7.95" height="5.1" fill="#ff0a8a"/>
<rect x="907.04" y="599.0" width="7.95" height="13.7" fill="#ff00ff"/>
<rect x="907.04" y="612.4" width="7.95" height="9.9" fill="#6a00ff"/>
<rect x="907.04" y="622.0" width="7.95" height="3.3" fill="#0829ff"/>
<rect x="907.04" y="625.0" width="7.95" height="23.3" fill="#0fb9ff"/>
<rect x="907.04" y="648.0" width="7.95" height="21.3" fill="#0cffbc"/>
<rect x="907.04" y="669.0" width="7.95" height="31.3" fill="#00ff18"/>
<rect x="907.04" y="700.0" width="7.95" height="124.9" fill="#00c812"/>
<rect x="907.04" y="824.6" width="7.95" height="2.3" fill="#e6ff00"/>
<rect x="907.04" y="826.6" width="7.95" height="227.8" fill="#fc0006"/>
<rect x="916.38" y="594.2" width="7.95" height="14.1" fill="#ff00ff"/>
<rect x="916.38" y="608.0" width="7.95" height="9.3" fill="#6a00ff"/>
<rect x="916.38" y="617.0" width="7.95" height="1.7" fill="#0829ff"/>
<rect x="916.38" y="618.4" width="7.95" height="13.9" fill="#0fb9ff"/>
<rect x="916.38" y="632.0" width="7.95" height="41.3" fill="#0cffbc"/>
<rect x="916.38" y="673.0" width="7.95" height="71.3" fill="#00ff18"/>
<rect x="916.38" y="744.0" width="7.95" height="142.3" fill="#00c812"/>
<rect x="916.38" y="886.0" width="7.95" height="10.3" fill="#ff8a00"/>
<rect x="916.38" y="896.0" width="7.95" height="158.4" fill="#fc0006"/>
<rect x="925.72" y="594.2" width="7.95" height="5.1" fill="#ff0a8a"/>
<rect x="925.72" y="599.0" width="7.95" height="4.9" fill="#6a00ff"/>
<rect x="925.72" y="603.6" width="7.95" height="35.7" fill="#0fb9ff"/>
<rect x="925.72" y="639.0" width="7.95" height="15.7" fill="#0cffbc"/>
<rect x="925.72" y="654.4" width="7.95" height="85.5" fill="#00ff18"/>
<rect x="925.72" y="739.6" width="7.95" height="75.7" fill="#00c812"/>
<rect x="925.72" y="815.0" width="7.95" height="13.3" fill="#e6ff00"/>
<rect x="925.72" y="828.0" width="7.95" height="82.9" fill="#ff8a00"/>
<rect x="925.72" y="910.6" width="7.95" height="143.8" fill="#fc0006"/>
<rect x="935.05" y="594.2" width="7.95" height="9.7" fill="#0829ff"/>
<rect x="935.05" y="603.6" width="7.95" height="61.7" fill="#0fb9ff"/>
<rect x="935.05" y="665.0" width="7.95" height="39.7" fill="#0cffbc"/>
<rect x="935.05" y="704.4" width="7.95" height="43.9" fill="#00ff18"/>
<rect x="935.05" y="748.0" width="7.95" height="42.3" fill="#00c812"/>
<rect x="935.05" y="790.0" width="7.95" height="10.3" fill="#e6ff00"/>
<rect x="935.05" y="800.0" width="7.95" height="139.3" fill="#ff8a00"/>
<rect x="935.05" y="939.0" width="7.95" height="115.4" fill="#fc0006"/>
<rect x="944.39" y="594.2" width="7.95" height="29.1" fill="#0829ff"/>
<rect x="944.39" y="623.0" width="7.95" height="69.3" fill="#0fb9ff"/>
<rect x="944.39" y="692.0" width="7.95" height="53.3" fill="#0cffbc"/>
<rect x="944.39" y="745.0" width="7.95" height="46.3" fill="#00ff18"/>
<rect x="944.39" y="791.0" width="7.95" height="15.3" fill="#00c812"/>
<rect x="944.39" y="806.0" width="7.95" height="11.3" fill="#e6ff00"/>
<rect x="944.39" y="817.0" width="7.95" height="49.9" fill="#ff8a00"/>
<rect x="944.39" y="866.6" width="7.95" height="187.8" fill="#fc0006"/>
<rect x="953.73" y="594.2" width="7.95" height="83.7" fill="#0829ff"/>
<rect x="953.73" y="677.6" width="7.95" height="80.7" fill="#0fb9ff"/>
<rect x="953.73" y="758.0" width="7.95" height="37.3" fill="#0cffbc"/>
<rect x="953.73" y="795.0" width="7.95" height="12.9" fill="#00ff18"/>
<rect x="953.73" y="807.6" width="7.95" height="9.1" fill="#00c812"/>
<rect x="953.73" y="816.4" width="7.95" height="28.5" fill="#e6ff00"/>
<rect x="953.73" y="844.6" width="7.95" height="40.3" fill="#ff8a00"/>
<rect x="953.73" y="884.6" width="7.95" height="169.8" fill="#fc0006"/>
<rect x="963.07" y="594.2" width="7.95" height="116.1" fill="#0829ff"/>
<rect x="963.07" y="710.0" width="7.95" height="26.3" fill="#0fb9ff"/>
<rect x="963.07" y="736.0" width="7.95" height="31.3" fill="#0cffbc"/>
<rect x="963.07" y="767.0" width="7.95" height="21.3" fill="#00c812"/>
<rect x="963.07" y="788.0" width="7.95" height="26.3" fill="#e6ff00"/>
<rect x="963.07" y="814.0" width="7.95" height="8.3" fill="#ff8a00"/>
<rect x="963.07" y="822.0" width="7.95" height="232.4" fill="#fc0006"/>
<rect x="972.41" y="594.2" width="7.95" height="11.1" fill="#ff00ff"/>
<rect x="972.41" y="605.0" width="7.95" height="130.3" fill="#0829ff"/>
<rect x="972.41" y="735.0" width="7.95" height="32.9" fill="#0fb9ff"/>
<rect x="972.41" y="767.6" width="7.95" height="16.7" fill="#0cffbc"/>
<rect x="972.41" y="784.0" width="7.95" height="10.3" fill="#00ff18"/>
<rect x="972.41" y="794.0" width="7.95" height="6.3" fill="#00c812"/>
<rect x="972.41" y="800.0" width="7.95" height="16.3" fill="#e6ff00"/>
<rect x="972.41" y="816.0" width="7.95" height="238.4" fill="#fc0006"/>
<rect x="981.75" y="594.2" width="7.95" height="34.5" fill="#0829ff"/>
<rect x="981.75" y="628.4" width="7.95" height="29.9" fill="#0fb9ff"/>
<rect x="981.75" y="658.0" width="7.95" height="46.7" fill="#0cffbc"/>
<rect x="981.75" y="704.4" width="7.95" height="5.5" fill="#00ff18"/>
<rect x="981.75" y="709.6" width="7.95" height="11.7" fill="#00c812"/>
<rect x="981.75" y="721.0" width="7.95" height="5.7" fill="#ff8a00"/>
<rect x="981.75" y="726.4" width="7.95" height="328.0" fill="#fc0006"/>
<rect x="991.09" y="594.2" width="7.95" height="21.7" fill="#0cffbc"/>
<rect x="991.09" y="615.6" width="7.95" height="12.7" fill="#00ff18"/>
<rect x="991.09" y="628.0" width="7.95" height="17.3" fill="#00c812"/>
<rect x="991.09" y="645.0" width="7.95" height="4.3" fill="#e6ff00"/>
<rect x="991.09" y="649.0" width="7.95" height="405.4" fill="#fc0006"/>
<rect x="1000.43" y="594.2" width="7.95" height="10.5" fill="#ff00ff"/>
<rect x="1000.43" y="604.4" width="7.95" height="3.5" fill="#6a00ff"/>
<rect x="1000.43" y="607.6" width="7.95" height="9.7" fill="#0829ff"/>
<rect x="1000.43" y="617.0" width="7.95" height="9.3" fill="#0fb9ff"/>
<rect x="1000.43" y="626.0" width="7.95" height="30.3" fill="#0cffbc"/>
<rect x="1000.43" y="656.0" width="7.95" height="9.9" fill="#00ff18"/>
<rect x="1000.43" y="665.6" width="7.95" height="62.3" fill="#00c812"/>
<rect x="1000.43" y="727.6" width="7.95" height="6.7" fill="#e6ff00"/>
<rect x="1000.43" y="734.0" width="7.95" height="6.3" fill="#ff8a00"/>
<rect x="1000.43" y="740.0" width="7.95" height="314.4" fill="#fc0006"/>
<rect x="1009.77" y="594.2" width="7.95" height="19.1" fill="#ff00ff"/>
<rect x="1009.77" y="613.0" width="7.95" height="7.3" fill="#6a00ff"/>
<rect x="1009.77" y="620.0" width="7.95" height="7.9" fill="#0829ff"/>
<rect x="1009.77" y="627.6" width="7.95" height="12.7" fill="#0fb9ff"/>
<rect x="1009.77" y="640.0" width="7.95" height="25.3" fill="#0cffbc"/>
<rect x="1009.77" y="665.0" width="7.95" height="52.9" fill="#00ff18"/>
<rect x="1009.77" y="717.6" width="7.95" height="112.7" fill="#00c812"/>
<rect x="1009.77" y="830.0" width="7.95" height="16.9" fill="#e6ff00"/>
<rect x="1009.77" y="846.6" width="7.95" height="10.7" fill="#ff8a00"/>
<rect x="1009.77" y="857.0" width="7.95" height="197.4" fill="#fc0006"/>
<rect x="1019.11" y="594.2" width="7.95" height="23.7" fill="#ff00ff"/>
<rect x="1019.11" y="617.6" width="7.95" height="9.7" fill="#0829ff"/>
<rect x="1019.11" y="627.0" width="7.95" height="12.9" fill="#0fb9ff"/>
<rect x="1019.11" y="639.6" width="7.95" height="19.7" fill="#0cffbc"/>
<rect x="1019.11" y="659.0" width="7.95" height="72.9" fill="#00ff18"/>
<rect x="1019.11" y="731.6" width="7.95" height="101.3" fill="#00c812"/>
<rect x="1019.11" y="832.6" width="7.95" height="58.7" fill="#e6ff00"/>
<rect x="1019.11" y="891.0" width="7.95" height="83.3" fill="#ff8a00"/>
<rect x="1019.11" y="974.0" width="7.95" height="80.4" fill="#fc0006"/>
<rect x="1028.44" y="594.2" width="7.95" height="12.1" fill="#ff00ff"/>
<rect x="1028.44" y="606.0" width="7.95" height="4.7" fill="#0829ff"/>
<rect x="1028.44" y="610.4" width="7.95" height="17.9" fill="#0fb9ff"/>
<rect x="1028.44" y="628.0" width="7.95" height="23.3" fill="#0cffbc"/>
<rect x="1028.44" y="651.0" width="7.95" height="68.9" fill="#00ff18"/>
<rect x="1028.44" y="719.6" width="7.95" height="52.7" fill="#00c812"/>
<rect x="1028.44" y="772.0" width="7.95" height="85.7" fill="#e6ff00"/>
<rect x="1028.44" y="857.4" width="7.95" height="126.3" fill="#ff8a00"/>
<rect x="1028.44" y="983.4" width="7.95" height="71.0" fill="#fc0006"/>
<rect x="1037.78" y="594.2" width="7.95" height="11.1" fill="#0829ff"/>
<rect x="1037.78" y="605.0" width="7.95" height="18.9" fill="#0fb9ff"/>
<rect x="1037.78" y="623.6" width="7.95" height="20.7" fill="#0cffbc"/>
<rect x="1037.78" y="644.0" width="7.95" height="64.3" fill="#00ff18"/>
<rect x="1037.78" y="708.0" width="7.95" height="25.3" fill="#00c812"/>
<rect x="1037.78" y="733.0" width="7.95" height="124.3" fill="#e6ff00"/>
<rect x="1037.78" y="857.0" width="7.95" height="114.3" fill="#ff8a00"/>
<rect x="1037.78" y="971.0" width="7.95" height="83.4" fill="#fc0006"/>
<rect x="1047.12" y="594.2" width="7.95" height="6.1" fill="#ff00ff"/>
<rect x="1047.12" y="600.0" width="7.95" height="25.9" fill="#0829ff"/>
<rect x="1047.12" y="625.6" width="7.95" height="33.1" fill="#0fb9ff"/>
<rect x="1047.12" y="658.4" width="7.95" height="37.9" fill="#0cffbc"/>
<rect x="1047.12" y="696.0" width="7.95" height="45.9" fill="#00ff18"/>
<rect x="1047.12" y="741.6" width="7.95" height="24.3" fill="#00c812"/>
<rect x="1047.12" y="765.6" width="7.95" height="75.3" fill="#e6ff00"/>
<rect x="1047.12" y="840.6" width="7.95" height="83.1" fill="#ff8a00"/>
<rect x="1047.12" y="923.4" width="7.95" height="131.0" fill="#fc0006"/>
<rect x="1056.46" y="594.2" width="7.95" height="2.1" fill="#6a00ff"/>
<rect x="1056.46" y="596.0" width="7.95" height="81.9" fill="#0829ff"/>
<rect x="1056.46" y="677.6" width="7.95" height="79.7" fill="#0fb9ff"/>
<rect x="1056.46" y="757.0" width="7.95" height="33.3" fill="#0cffbc"/>
<rect x="1056.46" y="790.0" width="7.95" height="25.3" fill="#00ff18"/>
<rect x="1056.46" y="815.0" width="7.95" height="15.3" fill="#00c812"/>
<rect x="1056.46" y="830.0" width="7.95" height="49.3" fill="#e6ff00"/>
<rect x="1056.46" y="879.0" width="7.95" height="63.3" fill="#ff8a00"/>
<rect x="1056.46" y="942.0" width="7.95" height="112.4" fill="#fc0006"/>
<rect x="1065.80" y="594.2" width="7.95" height="13.7" fill="#ff00ff"/>
<rect x="1065.80" y="607.6" width="7.95" height="12.7" fill="#6a00ff"/>
<rect x="1065.80" y="620.0" width="7.95" height="70.3" fill="#0829ff"/>
<rect x="1065.80" y="690.0" width="7.95" height="88.7" fill="#0fb9ff"/>
<rect x="1065.80" y="778.4" width="7.95" height="30.9" fill="#0cffbc"/>
<rect x="1065.80" y="809.0" width="7.95" height="20.3" fill="#00ff18"/>
<rect x="1065.80" y="829.0" width="7.95" height="31.3" fill="#00c812"/>
<rect x="1065.80" y="860.0" width="7.95" height="9.9" fill="#ff8a00"/>
<rect x="1065.80" y="869.6" width="7.95" height="184.8" fill="#fc0006"/>
<rect x="1075.14" y="594.2" width="7.95" height="10.5" fill="#ff0a8a"/>
<rect x="1075.14" y="604.4" width="7.95" height="17.9" fill="#6a00ff"/>
<rect x="1075.14" y="622.0" width="7.95" height="68.3" fill="#0829ff"/>
<rect x="1075.14" y="690.0" width="7.95" height="38.3" fill="#0fb9ff"/>
<rect x="1075.14" y="728.0" width="7.95" height="59.3" fill="#0cffbc"/>
<rect x="1075.14" y="787.0" width="7.95" height="13.3" fill="#00ff18"/>
<rect x="1075.14" y="800.0" width="7.95" height="7.3" fill="#00c812"/>
<rect x="1075.14" y="807.0" width="7.95" height="3.9" fill="#e6ff00"/>
<rect x="1075.14" y="810.6" width="7.95" height="243.8" fill="#fc0006"/>
<rect x="1084.48" y="594.2" width="7.95" height="16.1" fill="#ff0a8a"/>
<rect x="1084.48" y="610.0" width="7.95" height="13.3" fill="#ff00ff"/>
<rect x="1084.48" y="623.0" width="7.95" height="33.3" fill="#6a00ff"/>
<rect x="1084.48" y="656.0" width="7.95" height="18.3" fill="#0829ff"/>
<rect x="1084.48" y="674.0" width="7.95" height="25.3" fill="#0fb9ff"/>
<rect x="1084.48" y="699.0" width="7.95" height="49.3" fill="#0cffbc"/>
<rect x="1084.48" y="748.0" width="7.95" height="5.9" fill="#00ff18"/>
<rect x="1084.48" y="753.6" width="7.95" height="16.7" fill="#00c812"/>
<rect x="1084.48" y="770.0" width="7.95" height="6.3" fill="#ff8a00"/>
<rect x="1084.48" y="776.0" width="7.95" height="278.4" fill="#fc0006"/>
<rect x="1093.82" y="594.2" width="7.95" height="12.5" fill="#ff0a8a"/>
<rect x="1093.82" y="606.4" width="7.95" height="26.3" fill="#ff00ff"/>
<rect x="1093.82" y="632.4" width="7.95" height="16.9" fill="#6a00ff"/>
<rect x="1093.82" y="649.0" width="7.95" height="22.3" fill="#0829ff"/>
<rect x="1093.82" y="671.0" width="7.95" height="5.3" fill="#0fb9ff"/>
<rect x="1093.82" y="676.0" width="7.95" height="38.7" fill="#0cffbc"/>
<rect x="1093.82" y="714.4" width="7.95" height="5.9" fill="#00ff18"/>
<rect x="1093.82" y="720.0" width="7.95" height="22.3" fill="#00c812"/>
<rect x="1093.82" y="742.0" width="7.95" height="5.9" fill="#e6ff00"/>
<rect x="1093.82" y="747.6" width="7.95" height="16.7" fill="#ff8a00"/>
<rect x="1093.82" y="764.0" width="7.95" height="290.4" fill="#fc0006"/>
<rect x="1103.16" y="594.2" width="7.95" height="11.1" fill="#ff0a8a"/>
<rect x="1103.16" y="605.0" width="7.95" height="21.3" fill="#ff00ff"/>
<rect x="1103.16" y="626.0" width="7.95" height="12.7" fill="#6a00ff"/>
<rect x="1103.16" y="638.4" width="7.95" height="9.9" fill="#0fb9ff"/>
<rect x="1103.16" y="648.0" width="7.95" height="32.3" fill="#0cffbc"/>
<rect x="1103.16" y="680.0" width="7.95" height="8.3" fill="#00ff18"/>
<rect x="1103.16" y="688.0" width="7.95" height="9.3" fill="#00c812"/>
<rect x="1103.16" y="697.0" width="7.95" height="9.3" fill="#ff8a00"/>
<rect x="1103.16" y="706.0" width="7.95" height="348.4" fill="#fc0006"/>
<rect x="1112.50" y="594.2" width="7.95" height="14.1" fill="#ff0a8a"/>
<rect x="1112.50" y="608.0" width="7.95" height="19.3" fill="#ff00ff"/>
<rect x="1112.50" y="627.0" width="7.95" height="45.3" fill="#6a00ff"/>
<rect x="1112.50" y="672.0" width="7.95" height="14.3" fill="#0fb9ff"/>
<rect x="1112.50" y="686.0" width="7.95" height="29.3" fill="#0cffbc"/>
<rect x="1112.50" y="715.0" width="7.95" height="6.3" fill="#00ff18"/>
<rect x="1112.50" y="721.0" width="7.95" height="39.3" fill="#00c812"/>
<rect x="1112.50" y="760.0" width="7.95" height="4.3" fill="#e6ff00"/>
<rect x="1112.50" y="764.0" width="7.95" height="6.3" fill="#ff8a00"/>
<rect x="1112.50" y="770.0" width="7.95" height="284.4" fill="#fc0006"/>
<rect x="1121.83" y="594.2" width="7.95" height="10.1" fill="#ff0a8a"/>
<rect x="1121.83" y="604.0" width="7.95" height="14.3" fill="#ff00ff"/>
<rect x="1121.83" y="618.0" width="7.95" height="21.3" fill="#6a00ff"/>
<rect x="1121.83" y="639.0" width="7.95" height="5.7" fill="#0829ff"/>
<rect x="1121.83" y="644.4" width="7.95" height="20.9" fill="#0fb9ff"/>
<rect x="1121.83" y="665.0" width="7.95" height="31.3" fill="#0cffbc"/>
<rect x="1121.83" y="696.0" width="7.95" height="18.3" fill="#00ff18"/>
<rect x="1121.83" y="714.0" width="7.95" height="110.3" fill="#00c812"/>
<rect x="1121.83" y="824.0" width="7.95" height="4.3" fill="#e6ff00"/>
<rect x="1121.83" y="828.0" width="7.95" height="4.3" fill="#ff8a00"/>
<rect x="1121.83" y="832.0" width="7.95" height="222.4" fill="#fc0006"/>
<rect x="1131.17" y="594.2" width="7.95" height="19.1" fill="#ff0a8a"/>
<rect x="1131.17" y="613.0" width="7.95" height="11.3" fill="#ff00ff"/>
<rect x="1131.17" y="624.0" width="7.95" height="12.7" fill="#6a00ff"/>
<rect x="1131.17" y="636.4" width="7.95" height="33.9" fill="#0fb9ff"/>
<rect x="1131.17" y="670.0" width="7.95" height="25.3" fill="#0cffbc"/>
<rect x="1131.17" y="695.0" width="7.95" height="62.3" fill="#00ff18"/>
<rect x="1131.17" y="757.0" width="7.95" height="146.3" fill="#00c812"/>
<rect x="1131.17" y="903.0" width="7.95" height="4.3" fill="#e6ff00"/>
<rect x="1131.17" y="907.0" width="7.95" height="13.3" fill="#ff8a00"/>
<rect x="1131.17" y="920.0" width="7.95" height="134.4" fill="#fc0006"/>
<rect x="617.8" y="593.9" width="63.4" height="460" fill="none" stroke="#141414" stroke-width="5.6"/>
<line x1="132.2" y1="591.6" x2="132.2" y2="1069.2" stroke="#000" stroke-width="4.6"/>
<line x1="116.9" y1="1054.4" x2="1138.9" y2="1054.4" stroke="#000" stroke-width="4.8"/>
<line x1="116.9" y1="594.0" x2="132" y2="594.0" stroke="#000" stroke-width="4.8"/>
<line x1="116.9" y1="708.9" x2="132" y2="708.9" stroke="#000" stroke-width="4.8"/>
<line x1="116.9" y1="824.4" x2="132" y2="824.4" stroke="#000" stroke-width="4.8"/>
<line x1="116.9" y1="939.6" x2="132" y2="939.6" stroke="#000" stroke-width="4.8"/>
<line x1="243.6" y1="1054" x2="243.6" y2="1069.2" stroke="#000" stroke-width="4.9"/>
<line x1="355.5" y1="1054" x2="355.5" y2="1069.2" stroke="#000" stroke-width="4.9"/>
<line x1="467.5" y1="1054" x2="467.5" y2="1069.2" stroke="#000" stroke-width="4.9"/>
<line x1="579.4" y1="1054" x2="579.4" y2="1069.2" stroke="#000" stroke-width="4.9"/>
<line x1="691.4" y1="1054" x2="691.4" y2="1069.2" stroke="#000" stroke-width="4.9"/>
<line x1="803.3" y1="1054" x2="803.3" y2="1069.2" stroke="#000" stroke-width="4.9"/>
<line x1="915.2" y1="1054" x2="915.2" y2="1069.2" stroke="#000" stroke-width="4.9"/>
<line x1="1027.2" y1="1054" x2="1027.2" y2="1069.2" stroke="#000" stroke-width="4.9"/>
<line x1="1136.5" y1="1054" x2="1136.5" y2="1069.2" stroke="#000" stroke-width="4.9"/>
<text transform="translate(118.5,606.2) scale(1.000,1.045)" font-size="42.5" text-anchor="end">100</text>
<text transform="translate(113.0,722.4) scale(1.000,1.045)" font-size="42.5" text-anchor="end">75</text>
<text transform="translate(113.0,837.8) scale(1.000,1.045)" font-size="42.5" text-anchor="end">50</text>
<text transform="translate(113.0,953.2) scale(1.000,1.045)" font-size="42.5" text-anchor="end">25</text>
<text transform="translate(110.0,1067.3) scale(1.000,1.045)" font-size="42.5" text-anchor="end">0</text>
<text transform="translate(22.2,607.7) scale(1.035,1.045)" font-size="62.5" text-anchor="middle">B</text>
<text transform="translate(45.7,824.5) rotate(-90) scale(1.000,1.045)" font-size="43.0" text-anchor="middle">Relative prevalence</text>
<text transform="translate(186.4,1096.2) scale(1.000,1.045)" font-size="42.5" text-anchor="middle">05</text>
<text transform="translate(298.3,1096.2) scale(1.000,1.045)" font-size="42.5" text-anchor="middle">06</text>
<text transform="translate(410.3,1096.2) scale(1.000,1.045)" font-size="42.5" text-anchor="middle">07</text>
<text transform="translate(522.2,1096.2) scale(1.000,1.045)" font-size="42.5" text-anchor="middle">08</text>
<text transform="translate(634.2,1096.2) scale(1.000,1.045)" font-size="42.5" text-anchor="middle">09</text>
<text transform="translate(746.1,1096.2) scale(1.000,1.045)" font-size="42.5" text-anchor="middle">10</text>
<text transform="translate(858.1,1096.2) scale(1.000,1.045)" font-size="42.5" text-anchor="middle">11</text>
<text transform="translate(970.0,1096.2) scale(1.000,1.045)" font-size="42.5" text-anchor="middle">12</text>
<text transform="translate(1082.0,1096.2) scale(1.000,1.045)" font-size="42.5" text-anchor="middle">13</text>
<text transform="translate(647.8,1141.0) scale(1.000,1.045)" font-size="41.5" text-anchor="middle">Year</text>
<rect x="1155.3" y="610.9" width="17.9" height="17.6" fill="#fc0006" stroke="rgba(0,0,0,0.78)" stroke-width="1.3"/>
<text transform="translate(1179.9,632.0) scale(1.031,1.045)" font-size="42.3">RV</text>
<rect x="1155.3" y="644.1" width="17.9" height="17.6" fill="#ff8a00" stroke="rgba(0,0,0,0.78)" stroke-width="1.3"/>
<text transform="translate(1179.9,666.0) scale(1.028,1.045)" font-size="42.3">IAV</text>
<rect x="1155.3" y="679.1" width="17.9" height="17.6" fill="#e6ff00" stroke="rgba(0,0,0,0.78)" stroke-width="1.3"/>
<text transform="translate(1179.7,700.5) scale(1.089,1.045)" font-size="42.3">IBV</text>
<rect x="1155.3" y="713.3" width="17.9" height="17.6" fill="#00c812" stroke="rgba(0,0,0,0.78)" stroke-width="1.3"/>
<text transform="translate(1180.7,734.0) scale(1.069,1.045)" font-size="42.3">RSV</text>
<rect x="1155.3" y="746.7" width="17.9" height="17.6" fill="#00ff18" stroke="rgba(0,0,0,0.78)" stroke-width="1.3"/>
<text transform="translate(1181.8,768.0) scale(1.026,1.045)" font-size="42.3">CoV</text>
<rect x="1155.3" y="777.4" width="17.9" height="17.6" fill="#0cffbc" stroke="rgba(0,0,0,0.78)" stroke-width="1.3"/>
<text transform="translate(1183.1,798.5) scale(1.035,1.045)" font-size="42.3">AdV</text>
<rect x="1155.3" y="812.0" width="17.9" height="17.6" fill="#0fb9ff" stroke="rgba(0,0,0,0.78)" stroke-width="1.3"/>
<text transform="translate(1180.8,833.0) scale(1.064,1.045)" font-size="42.3">MPV</text>
<rect x="1155.3" y="845.2" width="17.9" height="17.6" fill="#0829ff" stroke="rgba(0,0,0,0.78)" stroke-width="1.3"/>
<text transform="translate(1181.3,866.0) scale(1.078,1.045)" font-size="42.3">PIV3</text>
<rect x="1155.3" y="877.4" width="17.9" height="17.6" fill="#6a00ff" stroke="rgba(0,0,0,0.78)" stroke-width="1.3"/>
<text transform="translate(1181.5,898.4) scale(1.030,1.045)" font-size="42.3">PIV1</text>
<rect x="1155.3" y="909.8" width="17.9" height="17.6" fill="#ff00ff" stroke="rgba(0,0,0,0.78)" stroke-width="1.3"/>
<text transform="translate(1181.4,931.0) scale(1.051,1.045)" font-size="42.3">PIV4</text>
<rect x="1155.3" y="942.1" width="17.9" height="17.6" fill="#ff0a8a" stroke="rgba(0,0,0,0.78)" stroke-width="1.3"/>
<text transform="translate(1181.3,963.4) scale(1.081,1.045)" font-size="42.3">PIV2</text>
</g>
</svg></body></html>
